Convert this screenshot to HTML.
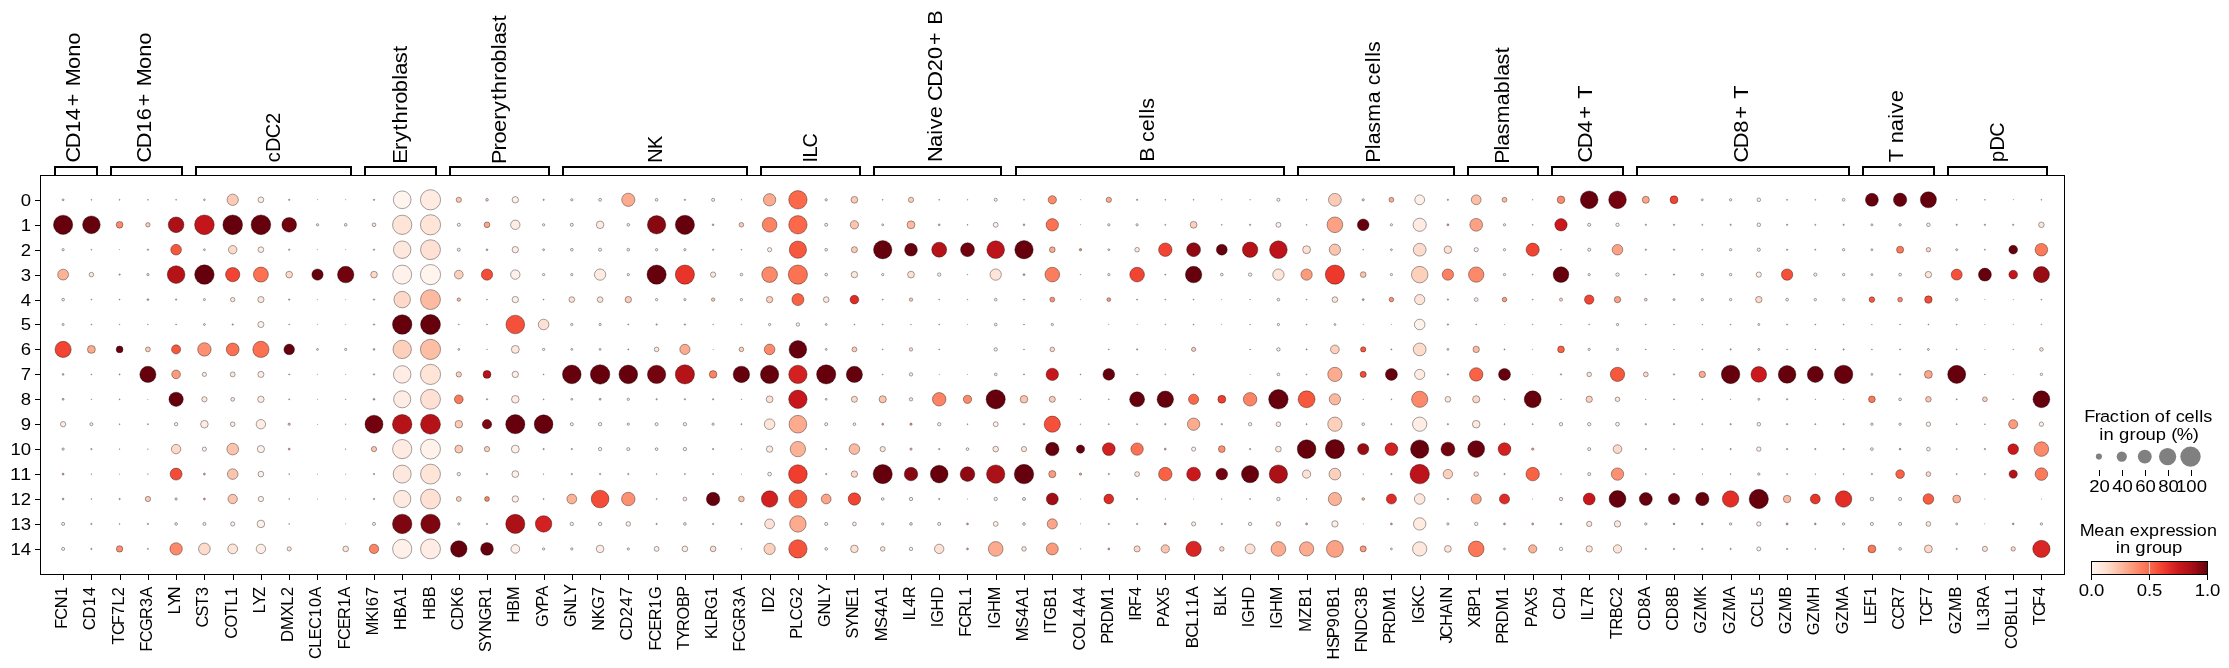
<!DOCTYPE html><html><head><meta charset="utf-8"><title>dotplot</title><style>html,body{margin:0;padding:0;background:#fff}body{width:2229px;height:668px;overflow:hidden;font-family:"Liberation Sans",sans-serif}</style></head><body><svg width="2229" height="668" viewBox="0 0 2229 668" style="display:block;will-change:transform">
<rect width="2229" height="668" fill="#fff"/>
<g stroke="#000" stroke-width="0.36">
<circle cx="63.1" cy="199.8" r="0.95" fill="#fee5d8"/>
<circle cx="91.4" cy="199.8" r="0.50" fill="#bdb4b2" stroke-width="0.25"/>
<circle cx="119.6" cy="199.8" r="0.50" fill="#bdb4b2" stroke-width="0.25"/>
<circle cx="147.9" cy="199.8" r="0.50" fill="#bdb4b2" stroke-width="0.25"/>
<circle cx="176.1" cy="199.8" r="0.50" fill="#bdb4b2" stroke-width="0.25"/>
<circle cx="204.4" cy="199.8" r="0.85" fill="#ffede5"/>
<circle cx="232.7" cy="199.8" r="5.65" fill="#fdcab5"/>
<circle cx="260.9" cy="199.8" r="2.85" fill="#ffede5"/>
<circle cx="289.2" cy="199.8" r="0.75" fill="#bdb4b2" stroke-width="0.25"/>
<circle cx="317.5" cy="199.8" r="0.25" fill="#bdb4b2" stroke-width="0.25"/>
<circle cx="345.7" cy="199.8" r="0.25" fill="#bdb4b2" stroke-width="0.25"/>
<circle cx="374.0" cy="199.8" r="0.75" fill="#bdb4b2" stroke-width="0.25"/>
<circle cx="402.2" cy="199.8" r="8.85" fill="#fff4ee"/>
<circle cx="430.5" cy="199.8" r="10.10" fill="#ffebe2"/>
<circle cx="458.8" cy="199.8" r="2.65" fill="#fcc4ad"/>
<circle cx="487.0" cy="199.8" r="1.35" fill="#fed9c9"/>
<circle cx="515.3" cy="199.8" r="3.20" fill="#fff0e9"/>
<circle cx="543.6" cy="199.8" r="0.75" fill="#bdb4b2" stroke-width="0.25"/>
<circle cx="571.8" cy="199.8" r="1.15" fill="#ffede5"/>
<circle cx="600.1" cy="199.8" r="1.45" fill="#ffede5"/>
<circle cx="628.3" cy="199.8" r="6.60" fill="#fcab8f"/>
<circle cx="656.6" cy="199.8" r="1.35" fill="#ffede5"/>
<circle cx="684.9" cy="199.8" r="0.75" fill="#bdb4b2" stroke-width="0.25"/>
<circle cx="713.1" cy="199.8" r="1.55" fill="#ffede5"/>
<circle cx="741.4" cy="199.8" r="0.40" fill="#bdb4b2" stroke-width="0.25"/>
<circle cx="769.6" cy="199.8" r="6.20" fill="#fcab8f"/>
<circle cx="797.9" cy="199.8" r="9.20" fill="#fb694a"/>
<circle cx="826.2" cy="199.8" r="1.15" fill="#ffede5"/>
<circle cx="854.4" cy="199.8" r="3.40" fill="#fdcab5"/>
<circle cx="882.7" cy="199.8" r="0.50" fill="#bdb4b2" stroke-width="0.25"/>
<circle cx="911.0" cy="199.8" r="2.65" fill="#fdd0bc"/>
<circle cx="939.2" cy="199.8" r="0.50" fill="#bdb4b2" stroke-width="0.25"/>
<circle cx="967.5" cy="199.8" r="0.40" fill="#bdb4b2" stroke-width="0.25"/>
<circle cx="995.7" cy="199.8" r="1.55" fill="#fff0e9"/>
<circle cx="1024.0" cy="199.8" r="0.50" fill="#bdb4b2" stroke-width="0.25"/>
<circle cx="1052.3" cy="199.8" r="4.15" fill="#fc8a6a"/>
<circle cx="1080.5" cy="199.8" r="0.25" fill="#bdb4b2" stroke-width="0.25"/>
<circle cx="1108.8" cy="199.8" r="2.65" fill="#fcab8f"/>
<circle cx="1137.1" cy="199.8" r="0.75" fill="#bdb4b2" stroke-width="0.25"/>
<circle cx="1165.3" cy="199.8" r="0.50" fill="#bdb4b2" stroke-width="0.25"/>
<circle cx="1193.6" cy="199.8" r="0.50" fill="#bdb4b2" stroke-width="0.25"/>
<circle cx="1221.8" cy="199.8" r="0.40" fill="#bdb4b2" stroke-width="0.25"/>
<circle cx="1250.1" cy="199.8" r="0.40" fill="#bdb4b2" stroke-width="0.25"/>
<circle cx="1278.4" cy="199.8" r="1.55" fill="#fff0e9"/>
<circle cx="1306.6" cy="199.8" r="0.50" fill="#bdb4b2" stroke-width="0.25"/>
<circle cx="1334.9" cy="199.8" r="6.40" fill="#fdcab5"/>
<circle cx="1363.2" cy="199.8" r="1.15" fill="#fed9c9"/>
<circle cx="1391.4" cy="199.8" r="2.45" fill="#fcab8f"/>
<circle cx="1419.7" cy="199.8" r="4.90" fill="#fff0e9"/>
<circle cx="1447.9" cy="199.8" r="0.75" fill="#bdb4b2" stroke-width="0.25"/>
<circle cx="1476.2" cy="199.8" r="4.90" fill="#fcbea5"/>
<circle cx="1504.5" cy="199.8" r="2.45" fill="#fcbba1"/>
<circle cx="1532.7" cy="199.8" r="0.40" fill="#bdb4b2" stroke-width="0.25"/>
<circle cx="1561.0" cy="199.8" r="3.80" fill="#fc8a6a"/>
<circle cx="1589.2" cy="199.8" r="8.85" fill="#67000d"/>
<circle cx="1617.5" cy="199.8" r="8.85" fill="#75030f"/>
<circle cx="1645.8" cy="199.8" r="3.55" fill="#fca588"/>
<circle cx="1674.0" cy="199.8" r="3.95" fill="#f14432"/>
<circle cx="1702.3" cy="199.8" r="1.00" fill="#ffede5"/>
<circle cx="1730.6" cy="199.8" r="1.20" fill="#fff0e9"/>
<circle cx="1758.8" cy="199.8" r="1.80" fill="#fff0e9"/>
<circle cx="1787.1" cy="199.8" r="0.60" fill="#bdb4b2" stroke-width="0.25"/>
<circle cx="1815.3" cy="199.8" r="0.50" fill="#bdb4b2" stroke-width="0.25"/>
<circle cx="1843.6" cy="199.8" r="1.40" fill="#fff0e9"/>
<circle cx="1871.9" cy="199.8" r="6.50" fill="#67000d"/>
<circle cx="1900.1" cy="199.8" r="6.70" fill="#67000d"/>
<circle cx="1928.4" cy="199.8" r="8.05" fill="#67000d"/>
<circle cx="1956.7" cy="199.8" r="0.50" fill="#bdb4b2" stroke-width="0.25"/>
<circle cx="1984.9" cy="199.8" r="0.50" fill="#bdb4b2" stroke-width="0.25"/>
<circle cx="2013.2" cy="199.8" r="0.25" fill="#bdb4b2" stroke-width="0.25"/>
<circle cx="2041.4" cy="199.8" r="0.50" fill="#bdb4b2" stroke-width="0.25"/>
<circle cx="63.1" cy="224.8" r="9.65" fill="#67000d"/>
<circle cx="91.4" cy="224.8" r="8.85" fill="#67000d"/>
<circle cx="119.6" cy="224.8" r="3.35" fill="#fc8a6a"/>
<circle cx="147.9" cy="224.8" r="2.20" fill="#fdcab5"/>
<circle cx="176.1" cy="224.8" r="7.85" fill="#ac1117"/>
<circle cx="204.4" cy="224.8" r="9.85" fill="#c2161b"/>
<circle cx="232.7" cy="224.8" r="9.85" fill="#67000d"/>
<circle cx="260.9" cy="224.8" r="9.85" fill="#67000d"/>
<circle cx="289.2" cy="224.8" r="7.35" fill="#71020e"/>
<circle cx="317.5" cy="224.8" r="1.15" fill="#fee5d8"/>
<circle cx="345.7" cy="224.8" r="1.35" fill="#fee5d8"/>
<circle cx="374.0" cy="224.8" r="1.85" fill="#fee5d8"/>
<circle cx="402.2" cy="224.8" r="9.65" fill="#fee5d8"/>
<circle cx="430.5" cy="224.8" r="10.10" fill="#fee5d8"/>
<circle cx="458.8" cy="224.8" r="1.55" fill="#ffede5"/>
<circle cx="487.0" cy="224.8" r="2.85" fill="#fca588"/>
<circle cx="515.3" cy="224.8" r="4.70" fill="#ffede5"/>
<circle cx="543.6" cy="224.8" r="1.15" fill="#fff0e9"/>
<circle cx="571.8" cy="224.8" r="1.55" fill="#ffede5"/>
<circle cx="600.1" cy="224.8" r="3.80" fill="#ffebe2"/>
<circle cx="628.3" cy="224.8" r="1.35" fill="#ffede5"/>
<circle cx="656.6" cy="224.8" r="9.20" fill="#880811"/>
<circle cx="684.9" cy="224.8" r="9.60" fill="#67000d"/>
<circle cx="713.1" cy="224.8" r="0.95" fill="#bdb4b2" stroke-width="0.25"/>
<circle cx="741.4" cy="224.8" r="2.30" fill="#fdcab5"/>
<circle cx="769.6" cy="224.8" r="7.35" fill="#fc8464"/>
<circle cx="797.9" cy="224.8" r="9.20" fill="#fb694a"/>
<circle cx="826.2" cy="224.8" r="1.55" fill="#ffede5"/>
<circle cx="854.4" cy="224.8" r="4.15" fill="#fcc4ad"/>
<circle cx="882.7" cy="224.8" r="0.95" fill="#ffede5"/>
<circle cx="911.0" cy="224.8" r="3.95" fill="#fcbba1"/>
<circle cx="939.2" cy="224.8" r="0.95" fill="#bdb4b2" stroke-width="0.25"/>
<circle cx="967.5" cy="224.8" r="0.50" fill="#bdb4b2" stroke-width="0.25"/>
<circle cx="995.7" cy="224.8" r="2.45" fill="#fff0e9"/>
<circle cx="1024.0" cy="224.8" r="0.95" fill="#bdb4b2" stroke-width="0.25"/>
<circle cx="1052.3" cy="224.8" r="6.20" fill="#fb7151"/>
<circle cx="1080.5" cy="224.8" r="0.25" fill="#bdb4b2" stroke-width="0.25"/>
<circle cx="1108.8" cy="224.8" r="1.15" fill="#ffede5"/>
<circle cx="1137.1" cy="224.8" r="1.15" fill="#ffede5"/>
<circle cx="1165.3" cy="224.8" r="0.60" fill="#bdb4b2" stroke-width="0.25"/>
<circle cx="1193.6" cy="224.8" r="3.40" fill="#fdd0bc"/>
<circle cx="1221.8" cy="224.8" r="0.50" fill="#bdb4b2" stroke-width="0.25"/>
<circle cx="1250.1" cy="224.8" r="0.75" fill="#bdb4b2" stroke-width="0.25"/>
<circle cx="1278.4" cy="224.8" r="2.45" fill="#fff0e9"/>
<circle cx="1306.6" cy="224.8" r="0.50" fill="#bdb4b2" stroke-width="0.25"/>
<circle cx="1334.9" cy="224.8" r="7.85" fill="#fca183"/>
<circle cx="1363.2" cy="224.8" r="5.85" fill="#67000d"/>
<circle cx="1391.4" cy="224.8" r="1.15" fill="#fff0e9"/>
<circle cx="1419.7" cy="224.8" r="6.60" fill="#ffebe2"/>
<circle cx="1447.9" cy="224.8" r="0.95" fill="#fcab8f"/>
<circle cx="1476.2" cy="224.8" r="6.40" fill="#fca183"/>
<circle cx="1504.5" cy="224.8" r="1.15" fill="#fff0e9"/>
<circle cx="1532.7" cy="224.8" r="0.50" fill="#bdb4b2" stroke-width="0.25"/>
<circle cx="1561.0" cy="224.8" r="6.20" fill="#ca181d"/>
<circle cx="1589.2" cy="224.8" r="1.55" fill="#fff0e9"/>
<circle cx="1617.5" cy="224.8" r="1.70" fill="#fff2eb"/>
<circle cx="1645.8" cy="224.8" r="0.75" fill="#bdb4b2" stroke-width="0.25"/>
<circle cx="1674.0" cy="224.8" r="0.75" fill="#bdb4b2" stroke-width="0.25"/>
<circle cx="1702.3" cy="224.8" r="0.60" fill="#bdb4b2" stroke-width="0.25"/>
<circle cx="1730.6" cy="224.8" r="0.75" fill="#bdb4b2" stroke-width="0.25"/>
<circle cx="1758.8" cy="224.8" r="1.80" fill="#fff0e9"/>
<circle cx="1787.1" cy="224.8" r="0.75" fill="#bdb4b2" stroke-width="0.25"/>
<circle cx="1815.3" cy="224.8" r="0.60" fill="#bdb4b2" stroke-width="0.25"/>
<circle cx="1843.6" cy="224.8" r="0.75" fill="#bdb4b2" stroke-width="0.25"/>
<circle cx="1871.9" cy="224.8" r="1.00" fill="#ffede5"/>
<circle cx="1900.1" cy="224.8" r="1.20" fill="#ffede5"/>
<circle cx="1928.4" cy="224.8" r="1.80" fill="#ffede5"/>
<circle cx="1956.7" cy="224.8" r="0.75" fill="#bdb4b2" stroke-width="0.25"/>
<circle cx="1984.9" cy="224.8" r="0.75" fill="#bdb4b2" stroke-width="0.25"/>
<circle cx="2013.2" cy="224.8" r="0.75" fill="#bdb4b2" stroke-width="0.25"/>
<circle cx="2041.4" cy="224.8" r="2.80" fill="#fee5d8"/>
<circle cx="63.1" cy="249.7" r="1.15" fill="#ffede5"/>
<circle cx="91.4" cy="249.7" r="0.50" fill="#bdb4b2" stroke-width="0.25"/>
<circle cx="119.6" cy="249.7" r="0.25" fill="#bdb4b2" stroke-width="0.25"/>
<circle cx="147.9" cy="249.7" r="0.75" fill="#bdb4b2" stroke-width="0.25"/>
<circle cx="176.1" cy="249.7" r="5.35" fill="#f6583e"/>
<circle cx="204.4" cy="249.7" r="0.95" fill="#ffede5"/>
<circle cx="232.7" cy="249.7" r="4.25" fill="#fed9c9"/>
<circle cx="260.9" cy="249.7" r="2.85" fill="#ffede5"/>
<circle cx="289.2" cy="249.7" r="0.75" fill="#bdb4b2" stroke-width="0.25"/>
<circle cx="317.5" cy="249.7" r="0.25" fill="#bdb4b2" stroke-width="0.25"/>
<circle cx="345.7" cy="249.7" r="0.25" fill="#bdb4b2" stroke-width="0.25"/>
<circle cx="374.0" cy="249.7" r="0.75" fill="#bdb4b2" stroke-width="0.25"/>
<circle cx="402.2" cy="249.7" r="8.75" fill="#fee8dd"/>
<circle cx="430.5" cy="249.7" r="9.95" fill="#fee1d4"/>
<circle cx="458.8" cy="249.7" r="1.55" fill="#fee8dd"/>
<circle cx="487.0" cy="249.7" r="0.95" fill="#bdb4b2" stroke-width="0.25"/>
<circle cx="515.3" cy="249.7" r="3.20" fill="#ffeee7"/>
<circle cx="543.6" cy="249.7" r="0.95" fill="#fee5d8"/>
<circle cx="571.8" cy="249.7" r="1.35" fill="#ffede5"/>
<circle cx="600.1" cy="249.7" r="1.55" fill="#ffede5"/>
<circle cx="628.3" cy="249.7" r="1.35" fill="#ffede5"/>
<circle cx="656.6" cy="249.7" r="1.15" fill="#fff0e9"/>
<circle cx="684.9" cy="249.7" r="1.15" fill="#ffede5"/>
<circle cx="713.1" cy="249.7" r="0.75" fill="#bdb4b2" stroke-width="0.25"/>
<circle cx="741.4" cy="249.7" r="0.50" fill="#bdb4b2" stroke-width="0.25"/>
<circle cx="769.6" cy="249.7" r="2.10" fill="#fff0e9"/>
<circle cx="797.9" cy="249.7" r="8.65" fill="#f6583e"/>
<circle cx="826.2" cy="249.7" r="1.35" fill="#ffede5"/>
<circle cx="854.4" cy="249.7" r="3.05" fill="#fdcab5"/>
<circle cx="882.7" cy="249.7" r="9.20" fill="#67000d"/>
<circle cx="911.0" cy="249.7" r="6.40" fill="#67000d"/>
<circle cx="939.2" cy="249.7" r="7.50" fill="#b61319"/>
<circle cx="967.5" cy="249.7" r="6.95" fill="#71020e"/>
<circle cx="995.7" cy="249.7" r="8.85" fill="#bc141a"/>
<circle cx="1024.0" cy="249.7" r="9.20" fill="#67000d"/>
<circle cx="1052.3" cy="249.7" r="2.85" fill="#fcab8f"/>
<circle cx="1080.5" cy="249.7" r="1.15" fill="#fc8a6a"/>
<circle cx="1108.8" cy="249.7" r="0.95" fill="#ffede5"/>
<circle cx="1137.1" cy="249.7" r="2.30" fill="#fee8dd"/>
<circle cx="1165.3" cy="249.7" r="6.75" fill="#f14432"/>
<circle cx="1193.6" cy="249.7" r="6.95" fill="#8e0912"/>
<circle cx="1221.8" cy="249.7" r="5.45" fill="#67000d"/>
<circle cx="1250.1" cy="249.7" r="7.70" fill="#b61319"/>
<circle cx="1278.4" cy="249.7" r="8.85" fill="#bc141a"/>
<circle cx="1306.6" cy="249.7" r="3.95" fill="#fee1d4"/>
<circle cx="1334.9" cy="249.7" r="5.65" fill="#fcc4ad"/>
<circle cx="1363.2" cy="249.7" r="0.50" fill="#bdb4b2" stroke-width="0.25"/>
<circle cx="1391.4" cy="249.7" r="0.95" fill="#fff0e9"/>
<circle cx="1419.7" cy="249.7" r="6.40" fill="#fedccd"/>
<circle cx="1447.9" cy="249.7" r="3.80" fill="#fee1d4"/>
<circle cx="1476.2" cy="249.7" r="2.10" fill="#fff0e9"/>
<circle cx="1504.5" cy="249.7" r="1.15" fill="#fff0e9"/>
<circle cx="1532.7" cy="249.7" r="6.60" fill="#f14432"/>
<circle cx="1561.0" cy="249.7" r="0.50" fill="#bdb4b2" stroke-width="0.25"/>
<circle cx="1589.2" cy="249.7" r="1.55" fill="#fff0e9"/>
<circle cx="1617.5" cy="249.7" r="5.30" fill="#fca183"/>
<circle cx="1645.8" cy="249.7" r="0.75" fill="#bdb4b2" stroke-width="0.25"/>
<circle cx="1674.0" cy="249.7" r="0.75" fill="#bdb4b2" stroke-width="0.25"/>
<circle cx="1702.3" cy="249.7" r="0.50" fill="#bdb4b2" stroke-width="0.25"/>
<circle cx="1730.6" cy="249.7" r="1.20" fill="#fff0e9"/>
<circle cx="1758.8" cy="249.7" r="1.60" fill="#fff0e9"/>
<circle cx="1787.1" cy="249.7" r="0.75" fill="#bdb4b2" stroke-width="0.25"/>
<circle cx="1815.3" cy="249.7" r="0.60" fill="#bdb4b2" stroke-width="0.25"/>
<circle cx="1843.6" cy="249.7" r="1.20" fill="#fff0e9"/>
<circle cx="1871.9" cy="249.7" r="1.00" fill="#ffede5"/>
<circle cx="1900.1" cy="249.7" r="3.55" fill="#fb7a5a"/>
<circle cx="1928.4" cy="249.7" r="2.20" fill="#fed9c9"/>
<circle cx="1956.7" cy="249.7" r="1.00" fill="#ffede5"/>
<circle cx="1984.9" cy="249.7" r="0.60" fill="#bdb4b2" stroke-width="0.25"/>
<circle cx="2013.2" cy="249.7" r="4.35" fill="#67000d"/>
<circle cx="2041.4" cy="249.7" r="6.30" fill="#fb7a5a"/>
<circle cx="63.1" cy="274.6" r="5.45" fill="#fcb296"/>
<circle cx="91.4" cy="274.6" r="2.30" fill="#fee8dd"/>
<circle cx="119.6" cy="274.6" r="0.75" fill="#bdb4b2" stroke-width="0.25"/>
<circle cx="147.9" cy="274.6" r="1.15" fill="#fee5d8"/>
<circle cx="176.1" cy="274.6" r="8.85" fill="#b61319"/>
<circle cx="204.4" cy="274.6" r="9.75" fill="#67000d"/>
<circle cx="232.7" cy="274.6" r="7.15" fill="#f14432"/>
<circle cx="260.9" cy="274.6" r="7.50" fill="#fb7151"/>
<circle cx="289.2" cy="274.6" r="3.35" fill="#fed9c9"/>
<circle cx="317.5" cy="274.6" r="5.65" fill="#67000d"/>
<circle cx="345.7" cy="274.6" r="8.25" fill="#71020e"/>
<circle cx="374.0" cy="274.6" r="3.35" fill="#fed9c9"/>
<circle cx="402.2" cy="274.6" r="9.50" fill="#fff2eb"/>
<circle cx="430.5" cy="274.6" r="10.10" fill="#fff4ee"/>
<circle cx="458.8" cy="274.6" r="4.35" fill="#fdd0bc"/>
<circle cx="487.0" cy="274.6" r="5.65" fill="#f34c37"/>
<circle cx="515.3" cy="274.6" r="4.70" fill="#fff0e9"/>
<circle cx="543.6" cy="274.6" r="1.15" fill="#fff0e9"/>
<circle cx="571.8" cy="274.6" r="1.15" fill="#ffede5"/>
<circle cx="600.1" cy="274.6" r="5.65" fill="#ffebe2"/>
<circle cx="628.3" cy="274.6" r="1.15" fill="#ffede5"/>
<circle cx="656.6" cy="274.6" r="9.60" fill="#67000d"/>
<circle cx="684.9" cy="274.6" r="9.60" fill="#e83429"/>
<circle cx="713.1" cy="274.6" r="2.65" fill="#fee8dd"/>
<circle cx="741.4" cy="274.6" r="1.35" fill="#ffede5"/>
<circle cx="769.6" cy="274.6" r="7.85" fill="#fc8a6a"/>
<circle cx="797.9" cy="274.6" r="9.60" fill="#fb7353"/>
<circle cx="826.2" cy="274.6" r="1.35" fill="#ffede5"/>
<circle cx="854.4" cy="274.6" r="3.20" fill="#fee8dd"/>
<circle cx="882.7" cy="274.6" r="1.15" fill="#fff0e9"/>
<circle cx="911.0" cy="274.6" r="3.40" fill="#fee1d4"/>
<circle cx="939.2" cy="274.6" r="1.70" fill="#fff0e9"/>
<circle cx="967.5" cy="274.6" r="0.40" fill="#bdb4b2" stroke-width="0.25"/>
<circle cx="995.7" cy="274.6" r="5.65" fill="#fee5d8"/>
<circle cx="1024.0" cy="274.6" r="0.95" fill="#fcab8f"/>
<circle cx="1052.3" cy="274.6" r="7.35" fill="#fb7d5d"/>
<circle cx="1080.5" cy="274.6" r="0.40" fill="#bdb4b2" stroke-width="0.25"/>
<circle cx="1108.8" cy="274.6" r="1.15" fill="#fff0e9"/>
<circle cx="1137.1" cy="274.6" r="7.35" fill="#f14432"/>
<circle cx="1165.3" cy="274.6" r="0.60" fill="#bdb4b2" stroke-width="0.25"/>
<circle cx="1193.6" cy="274.6" r="8.25" fill="#67000d"/>
<circle cx="1221.8" cy="274.6" r="1.35" fill="#fff0e9"/>
<circle cx="1250.1" cy="274.6" r="1.70" fill="#fff2eb"/>
<circle cx="1278.4" cy="274.6" r="5.65" fill="#fee5d8"/>
<circle cx="1306.6" cy="274.6" r="5.65" fill="#fc9b7c"/>
<circle cx="1334.9" cy="274.6" r="9.60" fill="#ed392b"/>
<circle cx="1363.2" cy="274.6" r="2.85" fill="#fcc4ad"/>
<circle cx="1391.4" cy="274.6" r="1.15" fill="#fff0e9"/>
<circle cx="1419.7" cy="274.6" r="8.25" fill="#fdd0bc"/>
<circle cx="1447.9" cy="274.6" r="5.65" fill="#fc8060"/>
<circle cx="1476.2" cy="274.6" r="7.70" fill="#fc8a6a"/>
<circle cx="1504.5" cy="274.6" r="1.15" fill="#fff0e9"/>
<circle cx="1532.7" cy="274.6" r="0.50" fill="#bdb4b2" stroke-width="0.25"/>
<circle cx="1561.0" cy="274.6" r="7.85" fill="#67000d"/>
<circle cx="1589.2" cy="274.6" r="1.15" fill="#fff0e9"/>
<circle cx="1617.5" cy="274.6" r="1.70" fill="#fff2eb"/>
<circle cx="1645.8" cy="274.6" r="0.60" fill="#bdb4b2" stroke-width="0.25"/>
<circle cx="1674.0" cy="274.6" r="0.75" fill="#bdb4b2" stroke-width="0.25"/>
<circle cx="1702.3" cy="274.6" r="1.20" fill="#ffede5"/>
<circle cx="1730.6" cy="274.6" r="1.20" fill="#fff0e9"/>
<circle cx="1758.8" cy="274.6" r="2.60" fill="#fff0e9"/>
<circle cx="1787.1" cy="274.6" r="5.70" fill="#f4503a"/>
<circle cx="1815.3" cy="274.6" r="1.60" fill="#ffede5"/>
<circle cx="1843.6" cy="274.6" r="1.20" fill="#fff0e9"/>
<circle cx="1871.9" cy="274.6" r="1.00" fill="#ffede5"/>
<circle cx="1900.1" cy="274.6" r="1.40" fill="#fff0e9"/>
<circle cx="1928.4" cy="274.6" r="3.20" fill="#fee5d8"/>
<circle cx="1956.7" cy="274.6" r="5.50" fill="#f4503a"/>
<circle cx="1984.9" cy="274.6" r="6.50" fill="#67000d"/>
<circle cx="2013.2" cy="274.6" r="4.35" fill="#c2161b"/>
<circle cx="2041.4" cy="274.6" r="8.05" fill="#980c13"/>
<circle cx="63.1" cy="299.6" r="1.35" fill="#ffede5"/>
<circle cx="91.4" cy="299.6" r="0.50" fill="#bdb4b2" stroke-width="0.25"/>
<circle cx="119.6" cy="299.6" r="0.50" fill="#bdb4b2" stroke-width="0.25"/>
<circle cx="147.9" cy="299.6" r="0.85" fill="#fcab8f"/>
<circle cx="176.1" cy="299.6" r="0.75" fill="#bdb4b2" stroke-width="0.25"/>
<circle cx="204.4" cy="299.6" r="1.05" fill="#ffede5"/>
<circle cx="232.7" cy="299.6" r="2.20" fill="#fee8dd"/>
<circle cx="260.9" cy="299.6" r="3.10" fill="#fee8dd"/>
<circle cx="289.2" cy="299.6" r="0.75" fill="#bdb4b2" stroke-width="0.25"/>
<circle cx="317.5" cy="299.6" r="0.25" fill="#bdb4b2" stroke-width="0.25"/>
<circle cx="345.7" cy="299.6" r="0.25" fill="#bdb4b2" stroke-width="0.25"/>
<circle cx="374.0" cy="299.6" r="0.75" fill="#bdb4b2" stroke-width="0.25"/>
<circle cx="402.2" cy="299.6" r="8.25" fill="#fed9c9"/>
<circle cx="430.5" cy="299.6" r="9.95" fill="#fcbba1"/>
<circle cx="458.8" cy="299.6" r="1.70" fill="#fcbba1"/>
<circle cx="487.0" cy="299.6" r="0.50" fill="#bdb4b2" stroke-width="0.25"/>
<circle cx="515.3" cy="299.6" r="3.20" fill="#ffeee7"/>
<circle cx="543.6" cy="299.6" r="0.50" fill="#bdb4b2" stroke-width="0.25"/>
<circle cx="571.8" cy="299.6" r="2.85" fill="#fee1d4"/>
<circle cx="600.1" cy="299.6" r="2.85" fill="#fee5d8"/>
<circle cx="628.3" cy="299.6" r="3.20" fill="#fdcab5"/>
<circle cx="656.6" cy="299.6" r="1.15" fill="#fff0e9"/>
<circle cx="684.9" cy="299.6" r="1.15" fill="#ffede5"/>
<circle cx="713.1" cy="299.6" r="1.70" fill="#fdcab5"/>
<circle cx="741.4" cy="299.6" r="1.15" fill="#fff0e9"/>
<circle cx="769.6" cy="299.6" r="3.20" fill="#fdd0bc"/>
<circle cx="797.9" cy="299.6" r="6.00" fill="#f96245"/>
<circle cx="826.2" cy="299.6" r="2.85" fill="#fee8dd"/>
<circle cx="854.4" cy="299.6" r="4.35" fill="#de2b25"/>
<circle cx="882.7" cy="299.6" r="0.60" fill="#bdb4b2" stroke-width="0.25"/>
<circle cx="911.0" cy="299.6" r="1.70" fill="#fdd0bc"/>
<circle cx="939.2" cy="299.6" r="0.50" fill="#bdb4b2" stroke-width="0.25"/>
<circle cx="967.5" cy="299.6" r="0.40" fill="#bdb4b2" stroke-width="0.25"/>
<circle cx="995.7" cy="299.6" r="1.35" fill="#fff0e9"/>
<circle cx="1024.0" cy="299.6" r="0.60" fill="#bdb4b2" stroke-width="0.25"/>
<circle cx="1052.3" cy="299.6" r="2.45" fill="#fc9070"/>
<circle cx="1080.5" cy="299.6" r="0.25" fill="#bdb4b2" stroke-width="0.25"/>
<circle cx="1108.8" cy="299.6" r="1.90" fill="#fc9b7c"/>
<circle cx="1137.1" cy="299.6" r="0.60" fill="#bdb4b2" stroke-width="0.25"/>
<circle cx="1165.3" cy="299.6" r="0.50" fill="#bdb4b2" stroke-width="0.25"/>
<circle cx="1193.6" cy="299.6" r="0.50" fill="#bdb4b2" stroke-width="0.25"/>
<circle cx="1221.8" cy="299.6" r="0.25" fill="#bdb4b2" stroke-width="0.25"/>
<circle cx="1250.1" cy="299.6" r="0.40" fill="#bdb4b2" stroke-width="0.25"/>
<circle cx="1278.4" cy="299.6" r="1.35" fill="#fff0e9"/>
<circle cx="1306.6" cy="299.6" r="0.50" fill="#bdb4b2" stroke-width="0.25"/>
<circle cx="1334.9" cy="299.6" r="2.85" fill="#fee5d8"/>
<circle cx="1363.2" cy="299.6" r="0.95" fill="#fcab8f"/>
<circle cx="1391.4" cy="299.6" r="2.30" fill="#fc9070"/>
<circle cx="1419.7" cy="299.6" r="5.10" fill="#fee5d8"/>
<circle cx="1447.9" cy="299.6" r="0.75" fill="#bdb4b2" stroke-width="0.25"/>
<circle cx="1476.2" cy="299.6" r="1.90" fill="#ffede5"/>
<circle cx="1504.5" cy="299.6" r="2.30" fill="#fc9b7c"/>
<circle cx="1532.7" cy="299.6" r="0.50" fill="#bdb4b2" stroke-width="0.25"/>
<circle cx="1561.0" cy="299.6" r="1.55" fill="#fed9c9"/>
<circle cx="1589.2" cy="299.6" r="4.70" fill="#f14432"/>
<circle cx="1617.5" cy="299.6" r="3.20" fill="#fca183"/>
<circle cx="1645.8" cy="299.6" r="1.40" fill="#fed9c9"/>
<circle cx="1674.0" cy="299.6" r="1.00" fill="#fee5d8"/>
<circle cx="1702.3" cy="299.6" r="1.20" fill="#ffede5"/>
<circle cx="1730.6" cy="299.6" r="1.20" fill="#fff0e9"/>
<circle cx="1758.8" cy="299.6" r="3.20" fill="#fed9c9"/>
<circle cx="1787.1" cy="299.6" r="1.40" fill="#fff0e9"/>
<circle cx="1815.3" cy="299.6" r="1.20" fill="#fff0e9"/>
<circle cx="1843.6" cy="299.6" r="1.20" fill="#fff0e9"/>
<circle cx="1871.9" cy="299.6" r="2.80" fill="#f6583e"/>
<circle cx="1900.1" cy="299.6" r="2.40" fill="#fc8464"/>
<circle cx="1928.4" cy="299.6" r="3.75" fill="#f34c37"/>
<circle cx="1956.7" cy="299.6" r="1.20" fill="#fff0e9"/>
<circle cx="1984.9" cy="299.6" r="0.25" fill="#bdb4b2" stroke-width="0.25"/>
<circle cx="2013.2" cy="299.6" r="0.25" fill="#bdb4b2" stroke-width="0.25"/>
<circle cx="2041.4" cy="299.6" r="0.50" fill="#bdb4b2" stroke-width="0.25"/>
<circle cx="63.1" cy="324.5" r="1.05" fill="#ffede5"/>
<circle cx="91.4" cy="324.5" r="0.50" fill="#bdb4b2" stroke-width="0.25"/>
<circle cx="119.6" cy="324.5" r="0.40" fill="#bdb4b2" stroke-width="0.25"/>
<circle cx="147.9" cy="324.5" r="0.40" fill="#bdb4b2" stroke-width="0.25"/>
<circle cx="176.1" cy="324.5" r="0.50" fill="#bdb4b2" stroke-width="0.25"/>
<circle cx="204.4" cy="324.5" r="0.95" fill="#ffede5"/>
<circle cx="232.7" cy="324.5" r="0.75" fill="#bdb4b2" stroke-width="0.25"/>
<circle cx="260.9" cy="324.5" r="3.05" fill="#fff0e9"/>
<circle cx="289.2" cy="324.5" r="0.50" fill="#bdb4b2" stroke-width="0.25"/>
<circle cx="317.5" cy="324.5" r="0.25" fill="#bdb4b2" stroke-width="0.25"/>
<circle cx="345.7" cy="324.5" r="0.25" fill="#bdb4b2" stroke-width="0.25"/>
<circle cx="374.0" cy="324.5" r="0.75" fill="#bdb4b2" stroke-width="0.25"/>
<circle cx="402.2" cy="324.5" r="9.75" fill="#67000d"/>
<circle cx="430.5" cy="324.5" r="9.95" fill="#67000d"/>
<circle cx="458.8" cy="324.5" r="0.50" fill="#bdb4b2" stroke-width="0.25"/>
<circle cx="487.0" cy="324.5" r="0.50" fill="#bdb4b2" stroke-width="0.25"/>
<circle cx="515.3" cy="324.5" r="9.35" fill="#f4503a"/>
<circle cx="543.6" cy="324.5" r="5.30" fill="#fee1d4"/>
<circle cx="571.8" cy="324.5" r="1.15" fill="#fff0e9"/>
<circle cx="600.1" cy="324.5" r="1.15" fill="#fff0e9"/>
<circle cx="628.3" cy="324.5" r="0.60" fill="#bdb4b2" stroke-width="0.25"/>
<circle cx="656.6" cy="324.5" r="0.75" fill="#bdb4b2" stroke-width="0.25"/>
<circle cx="684.9" cy="324.5" r="0.75" fill="#bdb4b2" stroke-width="0.25"/>
<circle cx="713.1" cy="324.5" r="0.40" fill="#bdb4b2" stroke-width="0.25"/>
<circle cx="741.4" cy="324.5" r="0.40" fill="#bdb4b2" stroke-width="0.25"/>
<circle cx="769.6" cy="324.5" r="1.15" fill="#fff2eb"/>
<circle cx="797.9" cy="324.5" r="1.70" fill="#fff2eb"/>
<circle cx="826.2" cy="324.5" r="0.95" fill="#fff0e9"/>
<circle cx="854.4" cy="324.5" r="0.50" fill="#bdb4b2" stroke-width="0.25"/>
<circle cx="882.7" cy="324.5" r="0.50" fill="#bdb4b2" stroke-width="0.25"/>
<circle cx="911.0" cy="324.5" r="0.40" fill="#bdb4b2" stroke-width="0.25"/>
<circle cx="939.2" cy="324.5" r="0.50" fill="#bdb4b2" stroke-width="0.25"/>
<circle cx="967.5" cy="324.5" r="0.25" fill="#bdb4b2" stroke-width="0.25"/>
<circle cx="995.7" cy="324.5" r="1.35" fill="#fff2eb"/>
<circle cx="1024.0" cy="324.5" r="0.50" fill="#bdb4b2" stroke-width="0.25"/>
<circle cx="1052.3" cy="324.5" r="1.15" fill="#fff0e9"/>
<circle cx="1108.8" cy="324.5" r="0.25" fill="#bdb4b2" stroke-width="0.25"/>
<circle cx="1137.1" cy="324.5" r="0.25" fill="#bdb4b2" stroke-width="0.25"/>
<circle cx="1165.3" cy="324.5" r="0.40" fill="#bdb4b2" stroke-width="0.25"/>
<circle cx="1193.6" cy="324.5" r="0.50" fill="#bdb4b2" stroke-width="0.25"/>
<circle cx="1221.8" cy="324.5" r="0.25" fill="#bdb4b2" stroke-width="0.25"/>
<circle cx="1250.1" cy="324.5" r="0.40" fill="#bdb4b2" stroke-width="0.25"/>
<circle cx="1278.4" cy="324.5" r="1.15" fill="#fff0e9"/>
<circle cx="1306.6" cy="324.5" r="0.50" fill="#bdb4b2" stroke-width="0.25"/>
<circle cx="1334.9" cy="324.5" r="0.95" fill="#ffede5"/>
<circle cx="1363.2" cy="324.5" r="0.25" fill="#bdb4b2" stroke-width="0.25"/>
<circle cx="1391.4" cy="324.5" r="0.25" fill="#bdb4b2" stroke-width="0.25"/>
<circle cx="1419.7" cy="324.5" r="5.30" fill="#fff2eb"/>
<circle cx="1447.9" cy="324.5" r="0.75" fill="#bdb4b2" stroke-width="0.25"/>
<circle cx="1476.2" cy="324.5" r="0.50" fill="#bdb4b2" stroke-width="0.25"/>
<circle cx="1504.5" cy="324.5" r="0.25" fill="#bdb4b2" stroke-width="0.25"/>
<circle cx="1532.7" cy="324.5" r="0.40" fill="#bdb4b2" stroke-width="0.25"/>
<circle cx="1561.0" cy="324.5" r="0.40" fill="#bdb4b2" stroke-width="0.25"/>
<circle cx="1589.2" cy="324.5" r="0.50" fill="#bdb4b2" stroke-width="0.25"/>
<circle cx="1617.5" cy="324.5" r="1.15" fill="#fff0e9"/>
<circle cx="1645.8" cy="324.5" r="0.50" fill="#bdb4b2" stroke-width="0.25"/>
<circle cx="1674.0" cy="324.5" r="0.50" fill="#bdb4b2" stroke-width="0.25"/>
<circle cx="1702.3" cy="324.5" r="0.40" fill="#bdb4b2" stroke-width="0.25"/>
<circle cx="1730.6" cy="324.5" r="0.50" fill="#bdb4b2" stroke-width="0.25"/>
<circle cx="1758.8" cy="324.5" r="1.00" fill="#fff0e9"/>
<circle cx="1787.1" cy="324.5" r="0.60" fill="#bdb4b2" stroke-width="0.25"/>
<circle cx="1815.3" cy="324.5" r="0.50" fill="#bdb4b2" stroke-width="0.25"/>
<circle cx="1843.6" cy="324.5" r="0.50" fill="#bdb4b2" stroke-width="0.25"/>
<circle cx="1871.9" cy="324.5" r="0.40" fill="#bdb4b2" stroke-width="0.25"/>
<circle cx="1900.1" cy="324.5" r="0.50" fill="#bdb4b2" stroke-width="0.25"/>
<circle cx="1928.4" cy="324.5" r="0.50" fill="#bdb4b2" stroke-width="0.25"/>
<circle cx="1956.7" cy="324.5" r="0.50" fill="#bdb4b2" stroke-width="0.25"/>
<circle cx="1984.9" cy="324.5" r="0.25" fill="#bdb4b2" stroke-width="0.25"/>
<circle cx="2013.2" cy="324.5" r="0.25" fill="#bdb4b2" stroke-width="0.25"/>
<circle cx="2041.4" cy="324.5" r="0.40" fill="#bdb4b2" stroke-width="0.25"/>
<circle cx="63.1" cy="349.4" r="8.10" fill="#f14432"/>
<circle cx="91.4" cy="349.4" r="3.95" fill="#fcab8f"/>
<circle cx="119.6" cy="349.4" r="3.40" fill="#67000d"/>
<circle cx="147.9" cy="349.4" r="2.45" fill="#fdcab5"/>
<circle cx="176.1" cy="349.4" r="4.55" fill="#f6583e"/>
<circle cx="204.4" cy="349.4" r="6.75" fill="#fc9070"/>
<circle cx="232.7" cy="349.4" r="6.40" fill="#fb7151"/>
<circle cx="260.9" cy="349.4" r="8.10" fill="#fb7151"/>
<circle cx="289.2" cy="349.4" r="5.30" fill="#67000d"/>
<circle cx="317.5" cy="349.4" r="0.95" fill="#ffede5"/>
<circle cx="345.7" cy="349.4" r="1.15" fill="#ffede5"/>
<circle cx="374.0" cy="349.4" r="0.95" fill="#bdb4b2" stroke-width="0.25"/>
<circle cx="402.2" cy="349.4" r="9.20" fill="#fdd0bc"/>
<circle cx="430.5" cy="349.4" r="10.10" fill="#fcbea5"/>
<circle cx="458.8" cy="349.4" r="0.95" fill="#ffede5"/>
<circle cx="487.0" cy="349.4" r="0.40" fill="#bdb4b2" stroke-width="0.25"/>
<circle cx="515.3" cy="349.4" r="3.95" fill="#fee8dd"/>
<circle cx="543.6" cy="349.4" r="1.15" fill="#fff0e9"/>
<circle cx="571.8" cy="349.4" r="0.95" fill="#fff0e9"/>
<circle cx="600.1" cy="349.4" r="0.95" fill="#fff0e9"/>
<circle cx="628.3" cy="349.4" r="0.60" fill="#bdb4b2" stroke-width="0.25"/>
<circle cx="656.6" cy="349.4" r="2.30" fill="#fee8dd"/>
<circle cx="684.9" cy="349.4" r="5.10" fill="#fcab8f"/>
<circle cx="713.1" cy="349.4" r="0.25" fill="#bdb4b2" stroke-width="0.25"/>
<circle cx="741.4" cy="349.4" r="2.30" fill="#fdd0bc"/>
<circle cx="769.6" cy="349.4" r="5.30" fill="#fc8a6a"/>
<circle cx="797.9" cy="349.4" r="8.85" fill="#67000d"/>
<circle cx="826.2" cy="349.4" r="0.95" fill="#fff0e9"/>
<circle cx="854.4" cy="349.4" r="2.45" fill="#fdcab5"/>
<circle cx="882.7" cy="349.4" r="0.50" fill="#bdb4b2" stroke-width="0.25"/>
<circle cx="911.0" cy="349.4" r="1.70" fill="#fee1d4"/>
<circle cx="939.2" cy="349.4" r="0.50" fill="#bdb4b2" stroke-width="0.25"/>
<circle cx="995.7" cy="349.4" r="1.70" fill="#fff0e9"/>
<circle cx="1024.0" cy="349.4" r="0.50" fill="#bdb4b2" stroke-width="0.25"/>
<circle cx="1052.3" cy="349.4" r="2.30" fill="#fed9c9"/>
<circle cx="1108.8" cy="349.4" r="0.50" fill="#bdb4b2" stroke-width="0.25"/>
<circle cx="1137.1" cy="349.4" r="0.75" fill="#bdb4b2" stroke-width="0.25"/>
<circle cx="1165.3" cy="349.4" r="0.25" fill="#bdb4b2" stroke-width="0.25"/>
<circle cx="1193.6" cy="349.4" r="2.10" fill="#fdd0bc"/>
<circle cx="1250.1" cy="349.4" r="0.50" fill="#bdb4b2" stroke-width="0.25"/>
<circle cx="1278.4" cy="349.4" r="1.70" fill="#fff0e9"/>
<circle cx="1306.6" cy="349.4" r="0.60" fill="#bdb4b2" stroke-width="0.25"/>
<circle cx="1334.9" cy="349.4" r="4.35" fill="#fdd0bc"/>
<circle cx="1363.2" cy="349.4" r="2.65" fill="#f6583e"/>
<circle cx="1391.4" cy="349.4" r="0.60" fill="#bdb4b2" stroke-width="0.25"/>
<circle cx="1419.7" cy="349.4" r="6.40" fill="#fedccd"/>
<circle cx="1447.9" cy="349.4" r="0.95" fill="#fee5d8"/>
<circle cx="1476.2" cy="349.4" r="3.20" fill="#fcbba1"/>
<circle cx="1504.5" cy="349.4" r="0.60" fill="#bdb4b2" stroke-width="0.25"/>
<circle cx="1532.7" cy="349.4" r="0.25" fill="#bdb4b2" stroke-width="0.25"/>
<circle cx="1561.0" cy="349.4" r="3.40" fill="#f96245"/>
<circle cx="1589.2" cy="349.4" r="1.15" fill="#ffede5"/>
<circle cx="1617.5" cy="349.4" r="1.15" fill="#ffede5"/>
<circle cx="1645.8" cy="349.4" r="0.50" fill="#bdb4b2" stroke-width="0.25"/>
<circle cx="1674.0" cy="349.4" r="0.40" fill="#bdb4b2" stroke-width="0.25"/>
<circle cx="1702.3" cy="349.4" r="0.50" fill="#bdb4b2" stroke-width="0.25"/>
<circle cx="1730.6" cy="349.4" r="0.75" fill="#bdb4b2" stroke-width="0.25"/>
<circle cx="1758.8" cy="349.4" r="1.00" fill="#fff0e9"/>
<circle cx="1787.1" cy="349.4" r="0.50" fill="#bdb4b2" stroke-width="0.25"/>
<circle cx="1815.3" cy="349.4" r="0.50" fill="#bdb4b2" stroke-width="0.25"/>
<circle cx="1843.6" cy="349.4" r="0.75" fill="#bdb4b2" stroke-width="0.25"/>
<circle cx="1871.9" cy="349.4" r="0.50" fill="#bdb4b2" stroke-width="0.25"/>
<circle cx="1900.1" cy="349.4" r="0.60" fill="#bdb4b2" stroke-width="0.25"/>
<circle cx="1928.4" cy="349.4" r="1.00" fill="#ffede5"/>
<circle cx="1956.7" cy="349.4" r="0.50" fill="#bdb4b2" stroke-width="0.25"/>
<circle cx="1984.9" cy="349.4" r="0.25" fill="#bdb4b2" stroke-width="0.25"/>
<circle cx="2013.2" cy="349.4" r="0.40" fill="#bdb4b2" stroke-width="0.25"/>
<circle cx="2041.4" cy="349.4" r="1.80" fill="#fee8dd"/>
<circle cx="63.1" cy="374.4" r="0.95" fill="#bdb4b2" stroke-width="0.25"/>
<circle cx="91.4" cy="374.4" r="0.50" fill="#bdb4b2" stroke-width="0.25"/>
<circle cx="119.6" cy="374.4" r="0.60" fill="#bdb4b2" stroke-width="0.25"/>
<circle cx="147.9" cy="374.4" r="8.10" fill="#67000d"/>
<circle cx="176.1" cy="374.4" r="4.35" fill="#fc9b7c"/>
<circle cx="204.4" cy="374.4" r="2.10" fill="#ffede5"/>
<circle cx="232.7" cy="374.4" r="2.45" fill="#fee8dd"/>
<circle cx="260.9" cy="374.4" r="3.05" fill="#ffede5"/>
<circle cx="289.2" cy="374.4" r="0.60" fill="#bdb4b2" stroke-width="0.25"/>
<circle cx="317.5" cy="374.4" r="0.25" fill="#bdb4b2" stroke-width="0.25"/>
<circle cx="345.7" cy="374.4" r="0.25" fill="#bdb4b2" stroke-width="0.25"/>
<circle cx="374.0" cy="374.4" r="0.75" fill="#bdb4b2" stroke-width="0.25"/>
<circle cx="402.2" cy="374.4" r="8.75" fill="#ffede5"/>
<circle cx="430.5" cy="374.4" r="10.10" fill="#fee5d8"/>
<circle cx="458.8" cy="374.4" r="2.65" fill="#fdd0bc"/>
<circle cx="487.0" cy="374.4" r="3.95" fill="#b61319"/>
<circle cx="515.3" cy="374.4" r="3.20" fill="#ffeee7"/>
<circle cx="543.6" cy="374.4" r="0.50" fill="#bdb4b2" stroke-width="0.25"/>
<circle cx="571.8" cy="374.4" r="9.35" fill="#67000d"/>
<circle cx="600.1" cy="374.4" r="9.75" fill="#67000d"/>
<circle cx="628.3" cy="374.4" r="9.35" fill="#67000d"/>
<circle cx="656.6" cy="374.4" r="9.20" fill="#75030f"/>
<circle cx="684.9" cy="374.4" r="9.60" fill="#b61319"/>
<circle cx="713.1" cy="374.4" r="3.80" fill="#fc8464"/>
<circle cx="741.4" cy="374.4" r="8.25" fill="#67000d"/>
<circle cx="769.6" cy="374.4" r="9.20" fill="#67000d"/>
<circle cx="797.9" cy="374.4" r="9.20" fill="#d32020"/>
<circle cx="826.2" cy="374.4" r="9.60" fill="#67000d"/>
<circle cx="854.4" cy="374.4" r="8.10" fill="#67000d"/>
<circle cx="882.7" cy="374.4" r="0.50" fill="#bdb4b2" stroke-width="0.25"/>
<circle cx="911.0" cy="374.4" r="1.70" fill="#ffede5"/>
<circle cx="939.2" cy="374.4" r="0.25" fill="#bdb4b2" stroke-width="0.25"/>
<circle cx="967.5" cy="374.4" r="0.25" fill="#bdb4b2" stroke-width="0.25"/>
<circle cx="995.7" cy="374.4" r="1.35" fill="#fff0e9"/>
<circle cx="1024.0" cy="374.4" r="0.60" fill="#bdb4b2" stroke-width="0.25"/>
<circle cx="1052.3" cy="374.4" r="6.20" fill="#c8171c"/>
<circle cx="1080.5" cy="374.4" r="0.50" fill="#bdb4b2" stroke-width="0.25"/>
<circle cx="1108.8" cy="374.4" r="5.85" fill="#67000d"/>
<circle cx="1137.1" cy="374.4" r="0.50" fill="#bdb4b2" stroke-width="0.25"/>
<circle cx="1165.3" cy="374.4" r="0.40" fill="#bdb4b2" stroke-width="0.25"/>
<circle cx="1193.6" cy="374.4" r="0.50" fill="#bdb4b2" stroke-width="0.25"/>
<circle cx="1250.1" cy="374.4" r="0.25" fill="#bdb4b2" stroke-width="0.25"/>
<circle cx="1278.4" cy="374.4" r="1.35" fill="#fff0e9"/>
<circle cx="1306.6" cy="374.4" r="0.50" fill="#bdb4b2" stroke-width="0.25"/>
<circle cx="1334.9" cy="374.4" r="7.15" fill="#fcab8f"/>
<circle cx="1363.2" cy="374.4" r="3.05" fill="#f34c37"/>
<circle cx="1391.4" cy="374.4" r="6.00" fill="#67000d"/>
<circle cx="1419.7" cy="374.4" r="5.10" fill="#ffebe2"/>
<circle cx="1447.9" cy="374.4" r="0.75" fill="#bdb4b2" stroke-width="0.25"/>
<circle cx="1476.2" cy="374.4" r="6.75" fill="#f96245"/>
<circle cx="1504.5" cy="374.4" r="6.00" fill="#67000d"/>
<circle cx="1532.7" cy="374.4" r="0.25" fill="#bdb4b2" stroke-width="0.25"/>
<circle cx="1561.0" cy="374.4" r="0.75" fill="#bdb4b2" stroke-width="0.25"/>
<circle cx="1589.2" cy="374.4" r="2.30" fill="#fee5d8"/>
<circle cx="1617.5" cy="374.4" r="7.15" fill="#f6583e"/>
<circle cx="1645.8" cy="374.4" r="2.40" fill="#fed9c9"/>
<circle cx="1674.0" cy="374.4" r="0.75" fill="#bdb4b2" stroke-width="0.25"/>
<circle cx="1702.3" cy="374.4" r="3.20" fill="#fcab8f"/>
<circle cx="1730.6" cy="374.4" r="9.25" fill="#67000d"/>
<circle cx="1758.8" cy="374.4" r="7.85" fill="#ca181d"/>
<circle cx="1787.1" cy="374.4" r="8.85" fill="#67000d"/>
<circle cx="1815.3" cy="374.4" r="8.05" fill="#67000d"/>
<circle cx="1843.6" cy="374.4" r="9.25" fill="#67000d"/>
<circle cx="1871.9" cy="374.4" r="1.00" fill="#ffede5"/>
<circle cx="1900.1" cy="374.4" r="0.75" fill="#bdb4b2" stroke-width="0.25"/>
<circle cx="1928.4" cy="374.4" r="3.95" fill="#fca588"/>
<circle cx="1956.7" cy="374.4" r="9.05" fill="#67000d"/>
<circle cx="1984.9" cy="374.4" r="0.50" fill="#bdb4b2" stroke-width="0.25"/>
<circle cx="2013.2" cy="374.4" r="0.25" fill="#bdb4b2" stroke-width="0.25"/>
<circle cx="2041.4" cy="374.4" r="1.20" fill="#fff0e9"/>
<circle cx="63.1" cy="399.3" r="0.95" fill="#fdcab5"/>
<circle cx="91.4" cy="399.3" r="0.40" fill="#bdb4b2" stroke-width="0.25"/>
<circle cx="119.6" cy="399.3" r="0.50" fill="#bdb4b2" stroke-width="0.25"/>
<circle cx="147.9" cy="399.3" r="0.25" fill="#bdb4b2" stroke-width="0.25"/>
<circle cx="176.1" cy="399.3" r="7.15" fill="#67000d"/>
<circle cx="204.4" cy="399.3" r="2.65" fill="#fee8dd"/>
<circle cx="232.7" cy="399.3" r="1.90" fill="#fee8dd"/>
<circle cx="260.9" cy="399.3" r="3.20" fill="#ffede5"/>
<circle cx="289.2" cy="399.3" r="0.60" fill="#bdb4b2" stroke-width="0.25"/>
<circle cx="317.5" cy="399.3" r="0.25" fill="#bdb4b2" stroke-width="0.25"/>
<circle cx="345.7" cy="399.3" r="0.40" fill="#bdb4b2" stroke-width="0.25"/>
<circle cx="374.0" cy="399.3" r="0.85" fill="#fcab8f"/>
<circle cx="402.2" cy="399.3" r="8.55" fill="#ffede5"/>
<circle cx="430.5" cy="399.3" r="9.95" fill="#fee1d4"/>
<circle cx="458.8" cy="399.3" r="4.35" fill="#fb7a5a"/>
<circle cx="487.0" cy="399.3" r="0.75" fill="#bdb4b2" stroke-width="0.25"/>
<circle cx="515.3" cy="399.3" r="3.80" fill="#ffebe2"/>
<circle cx="543.6" cy="399.3" r="0.50" fill="#bdb4b2" stroke-width="0.25"/>
<circle cx="571.8" cy="399.3" r="0.95" fill="#fff0e9"/>
<circle cx="600.1" cy="399.3" r="0.95" fill="#fdcab5"/>
<circle cx="628.3" cy="399.3" r="1.15" fill="#fff0e9"/>
<circle cx="656.6" cy="399.3" r="0.75" fill="#bdb4b2" stroke-width="0.25"/>
<circle cx="684.9" cy="399.3" r="0.75" fill="#bdb4b2" stroke-width="0.25"/>
<circle cx="713.1" cy="399.3" r="0.75" fill="#bdb4b2" stroke-width="0.25"/>
<circle cx="741.4" cy="399.3" r="0.40" fill="#bdb4b2" stroke-width="0.25"/>
<circle cx="769.6" cy="399.3" r="3.40" fill="#fee1d4"/>
<circle cx="797.9" cy="399.3" r="9.20" fill="#c8171c"/>
<circle cx="826.2" cy="399.3" r="0.95" fill="#fff0e9"/>
<circle cx="854.4" cy="399.3" r="3.05" fill="#fed9c9"/>
<circle cx="882.7" cy="399.3" r="3.60" fill="#fcc4ad"/>
<circle cx="911.0" cy="399.3" r="1.70" fill="#fee8dd"/>
<circle cx="939.2" cy="399.3" r="6.75" fill="#fc8464"/>
<circle cx="967.5" cy="399.3" r="4.15" fill="#fc8a6a"/>
<circle cx="995.7" cy="399.3" r="9.60" fill="#67000d"/>
<circle cx="1024.0" cy="399.3" r="3.80" fill="#fcc4ad"/>
<circle cx="1052.3" cy="399.3" r="3.05" fill="#fdcab5"/>
<circle cx="1080.5" cy="399.3" r="0.40" fill="#bdb4b2" stroke-width="0.25"/>
<circle cx="1108.8" cy="399.3" r="0.50" fill="#bdb4b2" stroke-width="0.25"/>
<circle cx="1137.1" cy="399.3" r="7.50" fill="#67000d"/>
<circle cx="1165.3" cy="399.3" r="8.25" fill="#67000d"/>
<circle cx="1193.6" cy="399.3" r="5.10" fill="#fb694a"/>
<circle cx="1221.8" cy="399.3" r="3.95" fill="#f03d2d"/>
<circle cx="1250.1" cy="399.3" r="6.75" fill="#fc8464"/>
<circle cx="1278.4" cy="399.3" r="9.75" fill="#67000d"/>
<circle cx="1306.6" cy="399.3" r="8.45" fill="#f6583e"/>
<circle cx="1334.9" cy="399.3" r="5.65" fill="#fcb89e"/>
<circle cx="1363.2" cy="399.3" r="0.40" fill="#bdb4b2" stroke-width="0.25"/>
<circle cx="1391.4" cy="399.3" r="0.50" fill="#bdb4b2" stroke-width="0.25"/>
<circle cx="1419.7" cy="399.3" r="8.10" fill="#fc8a6a"/>
<circle cx="1447.9" cy="399.3" r="2.85" fill="#fee8dd"/>
<circle cx="1476.2" cy="399.3" r="3.60" fill="#fdd7c6"/>
<circle cx="1504.5" cy="399.3" r="0.50" fill="#bdb4b2" stroke-width="0.25"/>
<circle cx="1532.7" cy="399.3" r="8.45" fill="#67000d"/>
<circle cx="1561.0" cy="399.3" r="0.50" fill="#bdb4b2" stroke-width="0.25"/>
<circle cx="1589.2" cy="399.3" r="3.20" fill="#fdd0bc"/>
<circle cx="1617.5" cy="399.3" r="2.30" fill="#fee5d8"/>
<circle cx="1645.8" cy="399.3" r="0.40" fill="#bdb4b2" stroke-width="0.25"/>
<circle cx="1674.0" cy="399.3" r="0.60" fill="#bdb4b2" stroke-width="0.25"/>
<circle cx="1702.3" cy="399.3" r="0.50" fill="#bdb4b2" stroke-width="0.25"/>
<circle cx="1730.6" cy="399.3" r="0.40" fill="#bdb4b2" stroke-width="0.25"/>
<circle cx="1758.8" cy="399.3" r="1.00" fill="#fff0e9"/>
<circle cx="1787.1" cy="399.3" r="0.75" fill="#bdb4b2" stroke-width="0.25"/>
<circle cx="1815.3" cy="399.3" r="0.40" fill="#bdb4b2" stroke-width="0.25"/>
<circle cx="1843.6" cy="399.3" r="0.40" fill="#bdb4b2" stroke-width="0.25"/>
<circle cx="1871.9" cy="399.3" r="3.35" fill="#fb7a5a"/>
<circle cx="1900.1" cy="399.3" r="1.40" fill="#fee5d8"/>
<circle cx="1928.4" cy="399.3" r="2.80" fill="#fcc4ad"/>
<circle cx="1956.7" cy="399.3" r="0.60" fill="#bdb4b2" stroke-width="0.25"/>
<circle cx="1984.9" cy="399.3" r="2.40" fill="#fdd0bc"/>
<circle cx="2013.2" cy="399.3" r="0.50" fill="#bdb4b2" stroke-width="0.25"/>
<circle cx="2041.4" cy="399.3" r="8.45" fill="#67000d"/>
<circle cx="63.1" cy="424.2" r="2.65" fill="#ffede5"/>
<circle cx="91.4" cy="424.2" r="1.55" fill="#ffede5"/>
<circle cx="119.6" cy="424.2" r="0.50" fill="#bdb4b2" stroke-width="0.25"/>
<circle cx="147.9" cy="424.2" r="0.60" fill="#bdb4b2" stroke-width="0.25"/>
<circle cx="176.1" cy="424.2" r="1.70" fill="#fff0e9"/>
<circle cx="204.4" cy="424.2" r="3.80" fill="#ffede5"/>
<circle cx="232.7" cy="424.2" r="2.30" fill="#ffede5"/>
<circle cx="260.9" cy="424.2" r="4.70" fill="#ffede5"/>
<circle cx="289.2" cy="424.2" r="1.15" fill="#fdcab5"/>
<circle cx="317.5" cy="424.2" r="0.25" fill="#bdb4b2" stroke-width="0.25"/>
<circle cx="345.7" cy="424.2" r="0.40" fill="#bdb4b2" stroke-width="0.25"/>
<circle cx="374.0" cy="424.2" r="9.00" fill="#71020e"/>
<circle cx="402.2" cy="424.2" r="9.75" fill="#b61319"/>
<circle cx="430.5" cy="424.2" r="9.95" fill="#b61319"/>
<circle cx="458.8" cy="424.2" r="3.80" fill="#fdcab5"/>
<circle cx="487.0" cy="424.2" r="4.70" fill="#7e0610"/>
<circle cx="515.3" cy="424.2" r="9.60" fill="#67000d"/>
<circle cx="543.6" cy="424.2" r="9.35" fill="#67000d"/>
<circle cx="571.8" cy="424.2" r="1.55" fill="#fff2eb"/>
<circle cx="600.1" cy="424.2" r="1.70" fill="#fff2eb"/>
<circle cx="628.3" cy="424.2" r="1.15" fill="#fff0e9"/>
<circle cx="656.6" cy="424.2" r="1.55" fill="#fff0e9"/>
<circle cx="684.9" cy="424.2" r="1.70" fill="#fff0e9"/>
<circle cx="713.1" cy="424.2" r="1.15" fill="#ffede5"/>
<circle cx="741.4" cy="424.2" r="0.60" fill="#bdb4b2" stroke-width="0.25"/>
<circle cx="769.6" cy="424.2" r="5.30" fill="#fee5d8"/>
<circle cx="797.9" cy="424.2" r="8.85" fill="#fcab8f"/>
<circle cx="826.2" cy="424.2" r="1.55" fill="#fff2eb"/>
<circle cx="854.4" cy="424.2" r="1.35" fill="#fff0e9"/>
<circle cx="882.7" cy="424.2" r="0.95" fill="#fcab8f"/>
<circle cx="911.0" cy="424.2" r="1.15" fill="#fcab8f"/>
<circle cx="939.2" cy="424.2" r="1.70" fill="#fff2eb"/>
<circle cx="967.5" cy="424.2" r="0.50" fill="#bdb4b2" stroke-width="0.25"/>
<circle cx="995.7" cy="424.2" r="2.45" fill="#fff2eb"/>
<circle cx="1024.0" cy="424.2" r="0.75" fill="#bdb4b2" stroke-width="0.25"/>
<circle cx="1052.3" cy="424.2" r="8.10" fill="#f4503a"/>
<circle cx="1080.5" cy="424.2" r="0.40" fill="#bdb4b2" stroke-width="0.25"/>
<circle cx="1108.8" cy="424.2" r="0.60" fill="#bdb4b2" stroke-width="0.25"/>
<circle cx="1137.1" cy="424.2" r="0.60" fill="#bdb4b2" stroke-width="0.25"/>
<circle cx="1165.3" cy="424.2" r="0.75" fill="#bdb4b2" stroke-width="0.25"/>
<circle cx="1193.6" cy="424.2" r="6.20" fill="#fcab8f"/>
<circle cx="1221.8" cy="424.2" r="0.75" fill="#bdb4b2" stroke-width="0.25"/>
<circle cx="1250.1" cy="424.2" r="1.70" fill="#fff5f0"/>
<circle cx="1278.4" cy="424.2" r="2.30" fill="#fff0e9"/>
<circle cx="1306.6" cy="424.2" r="0.60" fill="#bdb4b2" stroke-width="0.25"/>
<circle cx="1334.9" cy="424.2" r="7.15" fill="#fdd0bc"/>
<circle cx="1363.2" cy="424.2" r="1.35" fill="#fff0e9"/>
<circle cx="1391.4" cy="424.2" r="0.60" fill="#bdb4b2" stroke-width="0.25"/>
<circle cx="1419.7" cy="424.2" r="7.15" fill="#ffede5"/>
<circle cx="1447.9" cy="424.2" r="0.75" fill="#bdb4b2" stroke-width="0.25"/>
<circle cx="1476.2" cy="424.2" r="3.80" fill="#fee8dd"/>
<circle cx="1504.5" cy="424.2" r="0.60" fill="#bdb4b2" stroke-width="0.25"/>
<circle cx="1532.7" cy="424.2" r="0.60" fill="#bdb4b2" stroke-width="0.25"/>
<circle cx="1561.0" cy="424.2" r="1.70" fill="#fff2eb"/>
<circle cx="1589.2" cy="424.2" r="1.70" fill="#fff2eb"/>
<circle cx="1617.5" cy="424.2" r="1.90" fill="#fff2eb"/>
<circle cx="1645.8" cy="424.2" r="0.75" fill="#bdb4b2" stroke-width="0.25"/>
<circle cx="1674.0" cy="424.2" r="0.75" fill="#bdb4b2" stroke-width="0.25"/>
<circle cx="1702.3" cy="424.2" r="0.60" fill="#bdb4b2" stroke-width="0.25"/>
<circle cx="1730.6" cy="424.2" r="0.75" fill="#bdb4b2" stroke-width="0.25"/>
<circle cx="1758.8" cy="424.2" r="1.80" fill="#fff2eb"/>
<circle cx="1787.1" cy="424.2" r="0.75" fill="#bdb4b2" stroke-width="0.25"/>
<circle cx="1815.3" cy="424.2" r="0.60" fill="#bdb4b2" stroke-width="0.25"/>
<circle cx="1843.6" cy="424.2" r="0.75" fill="#bdb4b2" stroke-width="0.25"/>
<circle cx="1871.9" cy="424.2" r="1.20" fill="#fff0e9"/>
<circle cx="1900.1" cy="424.2" r="1.20" fill="#fff0e9"/>
<circle cx="1928.4" cy="424.2" r="2.20" fill="#fff2eb"/>
<circle cx="1956.7" cy="424.2" r="0.60" fill="#bdb4b2" stroke-width="0.25"/>
<circle cx="1984.9" cy="424.2" r="0.50" fill="#bdb4b2" stroke-width="0.25"/>
<circle cx="2013.2" cy="424.2" r="4.55" fill="#fc9b7c"/>
<circle cx="2041.4" cy="424.2" r="2.20" fill="#fff0e9"/>
<circle cx="63.1" cy="449.1" r="1.15" fill="#fee8dd"/>
<circle cx="91.4" cy="449.1" r="0.75" fill="#bdb4b2" stroke-width="0.25"/>
<circle cx="119.6" cy="449.1" r="0.40" fill="#bdb4b2" stroke-width="0.25"/>
<circle cx="147.9" cy="449.1" r="0.40" fill="#bdb4b2" stroke-width="0.25"/>
<circle cx="176.1" cy="449.1" r="4.70" fill="#fed9c9"/>
<circle cx="204.4" cy="449.1" r="2.10" fill="#fff0e9"/>
<circle cx="232.7" cy="449.1" r="5.85" fill="#fcc4ad"/>
<circle cx="260.9" cy="449.1" r="3.60" fill="#fff0e9"/>
<circle cx="289.2" cy="449.1" r="0.95" fill="#fcab8f"/>
<circle cx="345.7" cy="449.1" r="0.40" fill="#bdb4b2" stroke-width="0.25"/>
<circle cx="374.0" cy="449.1" r="2.65" fill="#fcc4ad"/>
<circle cx="402.2" cy="449.1" r="9.60" fill="#ffebe2"/>
<circle cx="430.5" cy="449.1" r="9.95" fill="#fff2eb"/>
<circle cx="458.8" cy="449.1" r="3.95" fill="#fdcab5"/>
<circle cx="487.0" cy="449.1" r="2.65" fill="#fdd0bc"/>
<circle cx="515.3" cy="449.1" r="3.95" fill="#fff0e9"/>
<circle cx="543.6" cy="449.1" r="0.75" fill="#bdb4b2" stroke-width="0.25"/>
<circle cx="571.8" cy="449.1" r="0.75" fill="#bdb4b2" stroke-width="0.25"/>
<circle cx="600.1" cy="449.1" r="1.70" fill="#fff2eb"/>
<circle cx="628.3" cy="449.1" r="1.55" fill="#fff0e9"/>
<circle cx="656.6" cy="449.1" r="1.35" fill="#fff0e9"/>
<circle cx="684.9" cy="449.1" r="1.70" fill="#fff0e9"/>
<circle cx="713.1" cy="449.1" r="0.75" fill="#bdb4b2" stroke-width="0.25"/>
<circle cx="741.4" cy="449.1" r="0.40" fill="#bdb4b2" stroke-width="0.25"/>
<circle cx="769.6" cy="449.1" r="3.20" fill="#ffebe2"/>
<circle cx="797.9" cy="449.1" r="7.70" fill="#fcb296"/>
<circle cx="826.2" cy="449.1" r="0.75" fill="#bdb4b2" stroke-width="0.25"/>
<circle cx="854.4" cy="449.1" r="5.30" fill="#fcbba1"/>
<circle cx="882.7" cy="449.1" r="2.65" fill="#fee5d8"/>
<circle cx="911.0" cy="449.1" r="1.15" fill="#fdcab5"/>
<circle cx="939.2" cy="449.1" r="0.75" fill="#bdb4b2" stroke-width="0.25"/>
<circle cx="967.5" cy="449.1" r="1.35" fill="#fff0e9"/>
<circle cx="995.7" cy="449.1" r="2.85" fill="#fee5d8"/>
<circle cx="1024.0" cy="449.1" r="2.65" fill="#fee5d8"/>
<circle cx="1052.3" cy="449.1" r="6.75" fill="#67000d"/>
<circle cx="1080.5" cy="449.1" r="4.15" fill="#67000d"/>
<circle cx="1108.8" cy="449.1" r="6.40" fill="#d32020"/>
<circle cx="1137.1" cy="449.1" r="6.20" fill="#fb7151"/>
<circle cx="1165.3" cy="449.1" r="0.95" fill="#fcab8f"/>
<circle cx="1193.6" cy="449.1" r="2.10" fill="#fff0e9"/>
<circle cx="1221.8" cy="449.1" r="3.40" fill="#fc9070"/>
<circle cx="1250.1" cy="449.1" r="0.75" fill="#bdb4b2" stroke-width="0.25"/>
<circle cx="1278.4" cy="449.1" r="2.85" fill="#fee8dd"/>
<circle cx="1306.6" cy="449.1" r="9.35" fill="#67000d"/>
<circle cx="1334.9" cy="449.1" r="9.60" fill="#67000d"/>
<circle cx="1363.2" cy="449.1" r="5.65" fill="#980c13"/>
<circle cx="1391.4" cy="449.1" r="6.40" fill="#d32020"/>
<circle cx="1419.7" cy="449.1" r="9.20" fill="#67000d"/>
<circle cx="1447.9" cy="449.1" r="6.95" fill="#71020e"/>
<circle cx="1476.2" cy="449.1" r="8.45" fill="#6b010e"/>
<circle cx="1504.5" cy="449.1" r="6.40" fill="#d32020"/>
<circle cx="1532.7" cy="449.1" r="1.15" fill="#fcab8f"/>
<circle cx="1589.2" cy="449.1" r="1.55" fill="#fff0e9"/>
<circle cx="1617.5" cy="449.1" r="4.35" fill="#fed9c9"/>
<circle cx="1645.8" cy="449.1" r="0.75" fill="#bdb4b2" stroke-width="0.25"/>
<circle cx="1674.0" cy="449.1" r="0.50" fill="#bdb4b2" stroke-width="0.25"/>
<circle cx="1702.3" cy="449.1" r="0.60" fill="#bdb4b2" stroke-width="0.25"/>
<circle cx="1730.6" cy="449.1" r="0.75" fill="#bdb4b2" stroke-width="0.25"/>
<circle cx="1758.8" cy="449.1" r="2.20" fill="#fff0e9"/>
<circle cx="1787.1" cy="449.1" r="0.75" fill="#bdb4b2" stroke-width="0.25"/>
<circle cx="1815.3" cy="449.1" r="0.75" fill="#bdb4b2" stroke-width="0.25"/>
<circle cx="1843.6" cy="449.1" r="0.75" fill="#bdb4b2" stroke-width="0.25"/>
<circle cx="1871.9" cy="449.1" r="1.40" fill="#ffede5"/>
<circle cx="1900.1" cy="449.1" r="0.85" fill="#fcab8f"/>
<circle cx="1928.4" cy="449.1" r="1.85" fill="#fff0e9"/>
<circle cx="1956.7" cy="449.1" r="0.60" fill="#bdb4b2" stroke-width="0.25"/>
<circle cx="1984.9" cy="449.1" r="0.75" fill="#bdb4b2" stroke-width="0.25"/>
<circle cx="2013.2" cy="449.1" r="5.35" fill="#ca181d"/>
<circle cx="2041.4" cy="449.1" r="7.30" fill="#fc8a6a"/>
<circle cx="63.1" cy="474.1" r="0.95" fill="#fcab8f"/>
<circle cx="91.4" cy="474.1" r="0.40" fill="#bdb4b2" stroke-width="0.25"/>
<circle cx="119.6" cy="474.1" r="0.25" fill="#bdb4b2" stroke-width="0.25"/>
<circle cx="147.9" cy="474.1" r="0.40" fill="#bdb4b2" stroke-width="0.25"/>
<circle cx="176.1" cy="474.1" r="6.00" fill="#f34c37"/>
<circle cx="204.4" cy="474.1" r="0.95" fill="#fcab8f"/>
<circle cx="232.7" cy="474.1" r="5.30" fill="#fcc4ad"/>
<circle cx="260.9" cy="474.1" r="2.85" fill="#fff0e9"/>
<circle cx="289.2" cy="474.1" r="0.50" fill="#bdb4b2" stroke-width="0.25"/>
<circle cx="317.5" cy="474.1" r="0.25" fill="#bdb4b2" stroke-width="0.25"/>
<circle cx="345.7" cy="474.1" r="0.25" fill="#bdb4b2" stroke-width="0.25"/>
<circle cx="374.0" cy="474.1" r="0.75" fill="#bdb4b2" stroke-width="0.25"/>
<circle cx="402.2" cy="474.1" r="9.00" fill="#fee8dd"/>
<circle cx="430.5" cy="474.1" r="9.95" fill="#fee5d8"/>
<circle cx="458.8" cy="474.1" r="1.70" fill="#fff0e9"/>
<circle cx="487.0" cy="474.1" r="0.75" fill="#bdb4b2" stroke-width="0.25"/>
<circle cx="515.3" cy="474.1" r="3.40" fill="#fff0e9"/>
<circle cx="543.6" cy="474.1" r="0.40" fill="#bdb4b2" stroke-width="0.25"/>
<circle cx="571.8" cy="474.1" r="0.75" fill="#bdb4b2" stroke-width="0.25"/>
<circle cx="600.1" cy="474.1" r="0.75" fill="#bdb4b2" stroke-width="0.25"/>
<circle cx="628.3" cy="474.1" r="0.75" fill="#bdb4b2" stroke-width="0.25"/>
<circle cx="656.6" cy="474.1" r="0.50" fill="#bdb4b2" stroke-width="0.25"/>
<circle cx="684.9" cy="474.1" r="0.60" fill="#bdb4b2" stroke-width="0.25"/>
<circle cx="713.1" cy="474.1" r="0.60" fill="#bdb4b2" stroke-width="0.25"/>
<circle cx="741.4" cy="474.1" r="0.25" fill="#bdb4b2" stroke-width="0.25"/>
<circle cx="769.6" cy="474.1" r="1.90" fill="#fff2eb"/>
<circle cx="797.9" cy="474.1" r="9.35" fill="#f03d2d"/>
<circle cx="826.2" cy="474.1" r="0.75" fill="#bdb4b2" stroke-width="0.25"/>
<circle cx="854.4" cy="474.1" r="3.20" fill="#fed9c9"/>
<circle cx="882.7" cy="474.1" r="9.60" fill="#67000d"/>
<circle cx="911.0" cy="474.1" r="6.75" fill="#880811"/>
<circle cx="939.2" cy="474.1" r="8.85" fill="#67000d"/>
<circle cx="967.5" cy="474.1" r="7.35" fill="#8e0912"/>
<circle cx="995.7" cy="474.1" r="9.20" fill="#ac1117"/>
<circle cx="1024.0" cy="474.1" r="9.75" fill="#67000d"/>
<circle cx="1052.3" cy="474.1" r="3.60" fill="#fc9b7c"/>
<circle cx="1080.5" cy="474.1" r="1.15" fill="#fcab8f"/>
<circle cx="1108.8" cy="474.1" r="0.75" fill="#bdb4b2" stroke-width="0.25"/>
<circle cx="1137.1" cy="474.1" r="2.45" fill="#fee5d8"/>
<circle cx="1165.3" cy="474.1" r="6.75" fill="#f96245"/>
<circle cx="1193.6" cy="474.1" r="6.95" fill="#ca181d"/>
<circle cx="1221.8" cy="474.1" r="5.85" fill="#71020e"/>
<circle cx="1250.1" cy="474.1" r="8.65" fill="#67000d"/>
<circle cx="1278.4" cy="474.1" r="9.20" fill="#ac1117"/>
<circle cx="1306.6" cy="474.1" r="4.15" fill="#fee1d4"/>
<circle cx="1334.9" cy="474.1" r="5.85" fill="#fdd0bc"/>
<circle cx="1363.2" cy="474.1" r="0.40" fill="#bdb4b2" stroke-width="0.25"/>
<circle cx="1391.4" cy="474.1" r="0.75" fill="#bdb4b2" stroke-width="0.25"/>
<circle cx="1419.7" cy="474.1" r="9.75" fill="#bc141a"/>
<circle cx="1447.9" cy="474.1" r="4.70" fill="#fdd0bc"/>
<circle cx="1476.2" cy="474.1" r="2.30" fill="#fee8dd"/>
<circle cx="1504.5" cy="474.1" r="0.75" fill="#bdb4b2" stroke-width="0.25"/>
<circle cx="1532.7" cy="474.1" r="6.75" fill="#f96245"/>
<circle cx="1561.0" cy="474.1" r="0.50" fill="#bdb4b2" stroke-width="0.25"/>
<circle cx="1589.2" cy="474.1" r="1.55" fill="#fff0e9"/>
<circle cx="1617.5" cy="474.1" r="6.20" fill="#fc9070"/>
<circle cx="1645.8" cy="474.1" r="0.60" fill="#bdb4b2" stroke-width="0.25"/>
<circle cx="1674.0" cy="474.1" r="0.60" fill="#bdb4b2" stroke-width="0.25"/>
<circle cx="1702.3" cy="474.1" r="0.40" fill="#bdb4b2" stroke-width="0.25"/>
<circle cx="1730.6" cy="474.1" r="0.50" fill="#bdb4b2" stroke-width="0.25"/>
<circle cx="1758.8" cy="474.1" r="1.20" fill="#fff0e9"/>
<circle cx="1787.1" cy="474.1" r="0.60" fill="#bdb4b2" stroke-width="0.25"/>
<circle cx="1815.3" cy="474.1" r="0.40" fill="#bdb4b2" stroke-width="0.25"/>
<circle cx="1843.6" cy="474.1" r="0.50" fill="#bdb4b2" stroke-width="0.25"/>
<circle cx="1871.9" cy="474.1" r="0.75" fill="#bdb4b2" stroke-width="0.25"/>
<circle cx="1900.1" cy="474.1" r="4.35" fill="#f96245"/>
<circle cx="1928.4" cy="474.1" r="2.40" fill="#fed9c9"/>
<circle cx="1956.7" cy="474.1" r="0.60" fill="#bdb4b2" stroke-width="0.25"/>
<circle cx="1984.9" cy="474.1" r="0.60" fill="#bdb4b2" stroke-width="0.25"/>
<circle cx="2013.2" cy="474.1" r="4.15" fill="#b61319"/>
<circle cx="2041.4" cy="474.1" r="6.30" fill="#fb7a5a"/>
<circle cx="63.1" cy="499.0" r="0.95" fill="#bdb4b2" stroke-width="0.25"/>
<circle cx="91.4" cy="499.0" r="0.50" fill="#bdb4b2" stroke-width="0.25"/>
<circle cx="119.6" cy="499.0" r="0.75" fill="#bdb4b2" stroke-width="0.25"/>
<circle cx="147.9" cy="499.0" r="2.65" fill="#fdcab5"/>
<circle cx="176.1" cy="499.0" r="1.15" fill="#fee5d8"/>
<circle cx="204.4" cy="499.0" r="0.95" fill="#fcab8f"/>
<circle cx="232.7" cy="499.0" r="4.70" fill="#fcc4ad"/>
<circle cx="260.9" cy="499.0" r="2.65" fill="#fff0e9"/>
<circle cx="289.2" cy="499.0" r="0.50" fill="#bdb4b2" stroke-width="0.25"/>
<circle cx="317.5" cy="499.0" r="0.25" fill="#bdb4b2" stroke-width="0.25"/>
<circle cx="345.7" cy="499.0" r="0.25" fill="#bdb4b2" stroke-width="0.25"/>
<circle cx="374.0" cy="499.0" r="0.75" fill="#bdb4b2" stroke-width="0.25"/>
<circle cx="402.2" cy="499.0" r="8.65" fill="#feeae0"/>
<circle cx="430.5" cy="499.0" r="9.95" fill="#fee1d4"/>
<circle cx="458.8" cy="499.0" r="2.45" fill="#fdd0bc"/>
<circle cx="487.0" cy="499.0" r="2.45" fill="#fc8464"/>
<circle cx="515.3" cy="499.0" r="3.20" fill="#ffeee7"/>
<circle cx="543.6" cy="499.0" r="0.60" fill="#bdb4b2" stroke-width="0.25"/>
<circle cx="571.8" cy="499.0" r="4.90" fill="#fcb296"/>
<circle cx="600.1" cy="499.0" r="8.85" fill="#f34c37"/>
<circle cx="628.3" cy="499.0" r="6.75" fill="#fc9070"/>
<circle cx="656.6" cy="499.0" r="0.60" fill="#bdb4b2" stroke-width="0.25"/>
<circle cx="684.9" cy="499.0" r="1.90" fill="#ffede5"/>
<circle cx="713.1" cy="499.0" r="6.75" fill="#67000d"/>
<circle cx="741.4" cy="499.0" r="2.85" fill="#fcc4ad"/>
<circle cx="769.6" cy="499.0" r="8.25" fill="#d32020"/>
<circle cx="797.9" cy="499.0" r="9.00" fill="#f6583e"/>
<circle cx="826.2" cy="499.0" r="4.90" fill="#fca588"/>
<circle cx="854.4" cy="499.0" r="6.20" fill="#f14432"/>
<circle cx="882.7" cy="499.0" r="1.35" fill="#ffede5"/>
<circle cx="911.0" cy="499.0" r="1.70" fill="#ffede5"/>
<circle cx="939.2" cy="499.0" r="0.75" fill="#bdb4b2" stroke-width="0.25"/>
<circle cx="967.5" cy="499.0" r="0.25" fill="#bdb4b2" stroke-width="0.25"/>
<circle cx="995.7" cy="499.0" r="1.70" fill="#fff2eb"/>
<circle cx="1024.0" cy="499.0" r="1.55" fill="#fee5d8"/>
<circle cx="1052.3" cy="499.0" r="6.00" fill="#a10e15"/>
<circle cx="1080.5" cy="499.0" r="0.25" fill="#bdb4b2" stroke-width="0.25"/>
<circle cx="1108.8" cy="499.0" r="4.90" fill="#de2b25"/>
<circle cx="1137.1" cy="499.0" r="0.75" fill="#bdb4b2" stroke-width="0.25"/>
<circle cx="1165.3" cy="499.0" r="0.40" fill="#bdb4b2" stroke-width="0.25"/>
<circle cx="1193.6" cy="499.0" r="0.25" fill="#bdb4b2" stroke-width="0.25"/>
<circle cx="1221.8" cy="499.0" r="0.40" fill="#bdb4b2" stroke-width="0.25"/>
<circle cx="1250.1" cy="499.0" r="0.60" fill="#bdb4b2" stroke-width="0.25"/>
<circle cx="1278.4" cy="499.0" r="1.70" fill="#fff2eb"/>
<circle cx="1306.6" cy="499.0" r="0.50" fill="#bdb4b2" stroke-width="0.25"/>
<circle cx="1334.9" cy="499.0" r="6.60" fill="#fcb296"/>
<circle cx="1363.2" cy="499.0" r="1.35" fill="#fdcab5"/>
<circle cx="1391.4" cy="499.0" r="5.10" fill="#de2b25"/>
<circle cx="1419.7" cy="499.0" r="5.30" fill="#fee8dd"/>
<circle cx="1447.9" cy="499.0" r="0.75" fill="#bdb4b2" stroke-width="0.25"/>
<circle cx="1476.2" cy="499.0" r="5.10" fill="#fca183"/>
<circle cx="1504.5" cy="499.0" r="5.10" fill="#de2b25"/>
<circle cx="1532.7" cy="499.0" r="0.25" fill="#bdb4b2" stroke-width="0.25"/>
<circle cx="1561.0" cy="499.0" r="1.70" fill="#fee5d8"/>
<circle cx="1589.2" cy="499.0" r="6.00" fill="#c8171c"/>
<circle cx="1617.5" cy="499.0" r="8.45" fill="#67000d"/>
<circle cx="1645.8" cy="499.0" r="6.50" fill="#67000d"/>
<circle cx="1674.0" cy="499.0" r="5.70" fill="#67000d"/>
<circle cx="1702.3" cy="499.0" r="6.70" fill="#67000d"/>
<circle cx="1730.6" cy="499.0" r="8.25" fill="#e22e27"/>
<circle cx="1758.8" cy="499.0" r="9.65" fill="#67000d"/>
<circle cx="1787.1" cy="499.0" r="3.75" fill="#fcbba1"/>
<circle cx="1815.3" cy="499.0" r="4.95" fill="#e83429"/>
<circle cx="1843.6" cy="499.0" r="8.25" fill="#e22e27"/>
<circle cx="1871.9" cy="499.0" r="1.80" fill="#fee8dd"/>
<circle cx="1900.1" cy="499.0" r="1.60" fill="#ffede5"/>
<circle cx="1928.4" cy="499.0" r="5.35" fill="#f75b40"/>
<circle cx="1956.7" cy="499.0" r="3.95" fill="#fcb296"/>
<circle cx="1984.9" cy="499.0" r="0.25" fill="#bdb4b2" stroke-width="0.25"/>
<circle cx="2041.4" cy="499.0" r="0.25" fill="#bdb4b2" stroke-width="0.25"/>
<circle cx="63.1" cy="523.9" r="1.55" fill="#fff0e9"/>
<circle cx="91.4" cy="523.9" r="0.75" fill="#bdb4b2" stroke-width="0.25"/>
<circle cx="119.6" cy="523.9" r="0.50" fill="#bdb4b2" stroke-width="0.25"/>
<circle cx="147.9" cy="523.9" r="0.75" fill="#bdb4b2" stroke-width="0.25"/>
<circle cx="176.1" cy="523.9" r="1.35" fill="#ffede5"/>
<circle cx="204.4" cy="523.9" r="1.55" fill="#ffede5"/>
<circle cx="232.7" cy="523.9" r="2.10" fill="#fff0e9"/>
<circle cx="260.9" cy="523.9" r="3.80" fill="#fff0e9"/>
<circle cx="289.2" cy="523.9" r="0.50" fill="#bdb4b2" stroke-width="0.25"/>
<circle cx="345.7" cy="523.9" r="0.25" fill="#bdb4b2" stroke-width="0.25"/>
<circle cx="374.0" cy="523.9" r="1.55" fill="#fff0e9"/>
<circle cx="402.2" cy="523.9" r="9.75" fill="#7e0610"/>
<circle cx="430.5" cy="523.9" r="9.75" fill="#7e0610"/>
<circle cx="458.8" cy="523.9" r="1.15" fill="#ffede5"/>
<circle cx="487.0" cy="523.9" r="0.75" fill="#bdb4b2" stroke-width="0.25"/>
<circle cx="515.3" cy="523.9" r="9.60" fill="#ac1117"/>
<circle cx="543.6" cy="523.9" r="8.25" fill="#d32020"/>
<circle cx="571.8" cy="523.9" r="1.70" fill="#fff2eb"/>
<circle cx="600.1" cy="523.9" r="1.70" fill="#fff2eb"/>
<circle cx="628.3" cy="523.9" r="2.30" fill="#fff0e9"/>
<circle cx="656.6" cy="523.9" r="0.75" fill="#bdb4b2" stroke-width="0.25"/>
<circle cx="684.9" cy="523.9" r="1.35" fill="#ffede5"/>
<circle cx="713.1" cy="523.9" r="0.75" fill="#bdb4b2" stroke-width="0.25"/>
<circle cx="741.4" cy="523.9" r="0.75" fill="#bdb4b2" stroke-width="0.25"/>
<circle cx="769.6" cy="523.9" r="4.90" fill="#fee1d4"/>
<circle cx="797.9" cy="523.9" r="8.25" fill="#fcab8f"/>
<circle cx="826.2" cy="523.9" r="1.55" fill="#fff2eb"/>
<circle cx="854.4" cy="523.9" r="1.90" fill="#ffede5"/>
<circle cx="882.7" cy="523.9" r="1.15" fill="#ffede5"/>
<circle cx="911.0" cy="523.9" r="1.35" fill="#fee5d8"/>
<circle cx="939.2" cy="523.9" r="1.55" fill="#fff0e9"/>
<circle cx="967.5" cy="523.9" r="0.95" fill="#fcab8f"/>
<circle cx="995.7" cy="523.9" r="2.45" fill="#ffede5"/>
<circle cx="1024.0" cy="523.9" r="1.35" fill="#fee8dd"/>
<circle cx="1052.3" cy="523.9" r="5.10" fill="#fca588"/>
<circle cx="1080.5" cy="523.9" r="0.25" fill="#bdb4b2" stroke-width="0.25"/>
<circle cx="1108.8" cy="523.9" r="0.75" fill="#bdb4b2" stroke-width="0.25"/>
<circle cx="1137.1" cy="523.9" r="0.75" fill="#bdb4b2" stroke-width="0.25"/>
<circle cx="1165.3" cy="523.9" r="0.95" fill="#fcab8f"/>
<circle cx="1193.6" cy="523.9" r="2.10" fill="#ffede5"/>
<circle cx="1221.8" cy="523.9" r="0.75" fill="#bdb4b2" stroke-width="0.25"/>
<circle cx="1250.1" cy="523.9" r="1.70" fill="#fff0e9"/>
<circle cx="1278.4" cy="523.9" r="2.30" fill="#ffede5"/>
<circle cx="1306.6" cy="523.9" r="0.95" fill="#fcab8f"/>
<circle cx="1334.9" cy="523.9" r="3.20" fill="#ffede5"/>
<circle cx="1363.2" cy="523.9" r="0.25" fill="#bdb4b2" stroke-width="0.25"/>
<circle cx="1391.4" cy="523.9" r="0.95" fill="#fcab8f"/>
<circle cx="1419.7" cy="523.9" r="6.20" fill="#ffebe2"/>
<circle cx="1447.9" cy="523.9" r="1.15" fill="#ffede5"/>
<circle cx="1476.2" cy="523.9" r="1.70" fill="#fff2eb"/>
<circle cx="1504.5" cy="523.9" r="0.95" fill="#fcab8f"/>
<circle cx="1532.7" cy="523.9" r="0.95" fill="#fcab8f"/>
<circle cx="1561.0" cy="523.9" r="0.95" fill="#bdb4b2" stroke-width="0.25"/>
<circle cx="1589.2" cy="523.9" r="2.65" fill="#fee5d8"/>
<circle cx="1617.5" cy="523.9" r="3.20" fill="#fee8dd"/>
<circle cx="1645.8" cy="523.9" r="1.20" fill="#ffede5"/>
<circle cx="1674.0" cy="523.9" r="0.85" fill="#fcab8f"/>
<circle cx="1702.3" cy="523.9" r="0.85" fill="#fcab8f"/>
<circle cx="1730.6" cy="523.9" r="1.20" fill="#fff0e9"/>
<circle cx="1758.8" cy="523.9" r="2.20" fill="#fff0e9"/>
<circle cx="1787.1" cy="523.9" r="1.00" fill="#fcab8f"/>
<circle cx="1815.3" cy="523.9" r="0.85" fill="#fcab8f"/>
<circle cx="1843.6" cy="523.9" r="1.20" fill="#fff0e9"/>
<circle cx="1871.9" cy="523.9" r="1.60" fill="#fff2eb"/>
<circle cx="1900.1" cy="523.9" r="1.60" fill="#fff2eb"/>
<circle cx="1928.4" cy="523.9" r="2.40" fill="#fee8dd"/>
<circle cx="1956.7" cy="523.9" r="1.00" fill="#ffede5"/>
<circle cx="1984.9" cy="523.9" r="0.25" fill="#bdb4b2" stroke-width="0.25"/>
<circle cx="2013.2" cy="523.9" r="0.85" fill="#fcab8f"/>
<circle cx="2041.4" cy="523.9" r="1.20" fill="#fff0e9"/>
<circle cx="63.1" cy="548.9" r="1.55" fill="#fff2eb"/>
<circle cx="91.4" cy="548.9" r="0.75" fill="#bdb4b2" stroke-width="0.25"/>
<circle cx="119.6" cy="548.9" r="3.20" fill="#fc9070"/>
<circle cx="147.9" cy="548.9" r="0.60" fill="#bdb4b2" stroke-width="0.25"/>
<circle cx="176.1" cy="548.9" r="6.20" fill="#fc8a6a"/>
<circle cx="204.4" cy="548.9" r="5.85" fill="#fedccd"/>
<circle cx="232.7" cy="548.9" r="4.90" fill="#fee5d8"/>
<circle cx="260.9" cy="548.9" r="4.70" fill="#ffeee7"/>
<circle cx="289.2" cy="548.9" r="2.10" fill="#fee5d8"/>
<circle cx="345.7" cy="548.9" r="2.85" fill="#fee5d8"/>
<circle cx="374.0" cy="548.9" r="4.70" fill="#fc8464"/>
<circle cx="402.2" cy="548.9" r="9.60" fill="#fff0e9"/>
<circle cx="430.5" cy="548.9" r="9.95" fill="#ffede5"/>
<circle cx="458.8" cy="548.9" r="8.25" fill="#67000d"/>
<circle cx="487.0" cy="548.9" r="6.40" fill="#67000d"/>
<circle cx="515.3" cy="548.9" r="4.35" fill="#fff0e9"/>
<circle cx="543.6" cy="548.9" r="1.15" fill="#fff0e9"/>
<circle cx="571.8" cy="548.9" r="1.15" fill="#fff0e9"/>
<circle cx="600.1" cy="548.9" r="3.80" fill="#ffeee7"/>
<circle cx="628.3" cy="548.9" r="1.15" fill="#fff0e9"/>
<circle cx="656.6" cy="548.9" r="2.45" fill="#ffede5"/>
<circle cx="684.9" cy="548.9" r="2.85" fill="#ffebe2"/>
<circle cx="713.1" cy="548.9" r="2.85" fill="#fee1d4"/>
<circle cx="741.4" cy="548.9" r="0.40" fill="#bdb4b2" stroke-width="0.25"/>
<circle cx="769.6" cy="548.9" r="5.65" fill="#fdd0bc"/>
<circle cx="797.9" cy="548.9" r="9.20" fill="#f5533b"/>
<circle cx="826.2" cy="548.9" r="1.35" fill="#fff0e9"/>
<circle cx="854.4" cy="548.9" r="3.80" fill="#fee1d4"/>
<circle cx="882.7" cy="548.9" r="2.30" fill="#fee5d8"/>
<circle cx="911.0" cy="548.9" r="1.70" fill="#fff2eb"/>
<circle cx="939.2" cy="548.9" r="4.70" fill="#fee1d4"/>
<circle cx="967.5" cy="548.9" r="0.95" fill="#fcab8f"/>
<circle cx="995.7" cy="548.9" r="7.35" fill="#fcab8f"/>
<circle cx="1024.0" cy="548.9" r="2.30" fill="#fee5d8"/>
<circle cx="1052.3" cy="548.9" r="6.00" fill="#fc9b7c"/>
<circle cx="1080.5" cy="548.9" r="0.40" fill="#bdb4b2" stroke-width="0.25"/>
<circle cx="1108.8" cy="548.9" r="0.95" fill="#fcab8f"/>
<circle cx="1137.1" cy="548.9" r="3.05" fill="#fed9c9"/>
<circle cx="1165.3" cy="548.9" r="4.15" fill="#fcc4ad"/>
<circle cx="1193.6" cy="548.9" r="7.70" fill="#d92523"/>
<circle cx="1221.8" cy="548.9" r="2.30" fill="#fed9c9"/>
<circle cx="1250.1" cy="548.9" r="4.90" fill="#fee1d4"/>
<circle cx="1278.4" cy="548.9" r="7.35" fill="#fcab8f"/>
<circle cx="1306.6" cy="548.9" r="7.15" fill="#fcab8f"/>
<circle cx="1334.9" cy="548.9" r="8.45" fill="#fca183"/>
<circle cx="1363.2" cy="548.9" r="3.05" fill="#fc9b7c"/>
<circle cx="1391.4" cy="548.9" r="0.95" fill="#ffede5"/>
<circle cx="1419.7" cy="548.9" r="7.15" fill="#fee8dd"/>
<circle cx="1447.9" cy="548.9" r="3.40" fill="#fee5d8"/>
<circle cx="1476.2" cy="548.9" r="7.85" fill="#fb7757"/>
<circle cx="1504.5" cy="548.9" r="0.95" fill="#fff0e9"/>
<circle cx="1532.7" cy="548.9" r="4.15" fill="#fcb296"/>
<circle cx="1561.0" cy="548.9" r="1.70" fill="#fff4ee"/>
<circle cx="1589.2" cy="548.9" r="3.20" fill="#fee5d8"/>
<circle cx="1617.5" cy="548.9" r="4.15" fill="#fee5d8"/>
<circle cx="1645.8" cy="548.9" r="0.75" fill="#bdb4b2" stroke-width="0.25"/>
<circle cx="1674.0" cy="548.9" r="0.75" fill="#bdb4b2" stroke-width="0.25"/>
<circle cx="1702.3" cy="548.9" r="0.75" fill="#bdb4b2" stroke-width="0.25"/>
<circle cx="1730.6" cy="548.9" r="0.75" fill="#bdb4b2" stroke-width="0.25"/>
<circle cx="1758.8" cy="548.9" r="2.00" fill="#fff4ee"/>
<circle cx="1787.1" cy="548.9" r="0.75" fill="#bdb4b2" stroke-width="0.25"/>
<circle cx="1815.3" cy="548.9" r="0.50" fill="#bdb4b2" stroke-width="0.25"/>
<circle cx="1843.6" cy="548.9" r="0.60" fill="#bdb4b2" stroke-width="0.25"/>
<circle cx="1871.9" cy="548.9" r="3.95" fill="#fb7a5a"/>
<circle cx="1900.1" cy="548.9" r="1.40" fill="#ffede5"/>
<circle cx="1928.4" cy="548.9" r="3.95" fill="#fed9c9"/>
<circle cx="1956.7" cy="548.9" r="0.75" fill="#bdb4b2" stroke-width="0.25"/>
<circle cx="1984.9" cy="548.9" r="2.60" fill="#fee1d4"/>
<circle cx="2013.2" cy="548.9" r="2.20" fill="#fed9c9"/>
<circle cx="2041.4" cy="548.9" r="8.65" fill="#d92523"/>
</g>
<path d="M40.5 175.5H2064.5V574.5H40.5ZM35.0 200.5H40.5M35.0 225.5H40.5M35.0 250.5H40.5M35.0 275.5H40.5M35.0 300.5H40.5M35.0 324.5H40.5M35.0 349.5H40.5M35.0 374.5H40.5M35.0 399.5H40.5M35.0 424.5H40.5M35.0 449.5H40.5M35.0 474.5H40.5M35.0 499.5H40.5M35.0 524.5H40.5M35.0 549.5H40.5M63.5 574.5V580.0M91.5 574.5V580.0M120.5 574.5V580.0M148.5 574.5V580.0M176.5 574.5V580.0M204.5 574.5V580.0M233.5 574.5V580.0M261.5 574.5V580.0M289.5 574.5V580.0M317.5 574.5V580.0M346.5 574.5V580.0M374.5 574.5V580.0M402.5 574.5V580.0M431.5 574.5V580.0M459.5 574.5V580.0M487.5 574.5V580.0M515.5 574.5V580.0M544.5 574.5V580.0M572.5 574.5V580.0M600.5 574.5V580.0M628.5 574.5V580.0M657.5 574.5V580.0M685.5 574.5V580.0M713.5 574.5V580.0M741.5 574.5V580.0M770.5 574.5V580.0M798.5 574.5V580.0M826.5 574.5V580.0M854.5 574.5V580.0M883.5 574.5V580.0M911.5 574.5V580.0M939.5 574.5V580.0M967.5 574.5V580.0M996.5 574.5V580.0M1024.5 574.5V580.0M1052.5 574.5V580.0M1081.5 574.5V580.0M1109.5 574.5V580.0M1137.5 574.5V580.0M1165.5 574.5V580.0M1194.5 574.5V580.0M1222.5 574.5V580.0M1250.5 574.5V580.0M1278.5 574.5V580.0M1307.5 574.5V580.0M1335.5 574.5V580.0M1363.5 574.5V580.0M1391.5 574.5V580.0M1420.5 574.5V580.0M1448.5 574.5V580.0M1476.5 574.5V580.0M1504.5 574.5V580.0M1533.5 574.5V580.0M1561.5 574.5V580.0M1589.5 574.5V580.0M1618.5 574.5V580.0M1646.5 574.5V580.0M1674.5 574.5V580.0M1702.5 574.5V580.0M1731.5 574.5V580.0M1759.5 574.5V580.0M1787.5 574.5V580.0M1815.5 574.5V580.0M1844.5 574.5V580.0M1872.5 574.5V580.0M1900.5 574.5V580.0M1928.5 574.5V580.0M1957.5 574.5V580.0M1985.5 574.5V580.0M2013.5 574.5V580.0M2041.5 574.5V580.0" stroke="#000" stroke-width="1" fill="none" shape-rendering="crispEdges"/>
<g font-family="Liberation Sans, sans-serif" font-size="16.5" fill="#000">
<text transform="translate(31.0 206.1) scale(1.123 1)" x="-9.18">0</text>
<text transform="translate(31.0 231.1) scale(1.123 1)" x="-9.18">1</text>
<text transform="translate(31.0 256.1) scale(1.123 1)" x="-9.18">2</text>
<text transform="translate(31.0 281.1) scale(1.123 1)" x="-9.18">3</text>
<text transform="translate(31.0 306.1) scale(1.123 1)" x="-9.18">4</text>
<text transform="translate(31.0 330.1) scale(1.123 1)" x="-9.18">5</text>
<text transform="translate(31.0 355.1) scale(1.123 1)" x="-9.18">6</text>
<text transform="translate(31.0 380.1) scale(1.123 1)" x="-9.18">7</text>
<text transform="translate(31.0 405.1) scale(1.123 1)" x="-9.18">8</text>
<text transform="translate(31.0 430.1) scale(1.123 1)" x="-9.18">9</text>
<text transform="translate(31.0 455.1) scale(1.123 1)" x="-18.36 -9.18">10</text>
<text transform="translate(31.0 480.1) scale(1.204 1)" x="-17.43 -8.87">11</text>
<text transform="translate(31.0 505.1) scale(1.123 1)" x="-18.36 -9.18">12</text>
<text transform="translate(31.0 530.1) scale(1.123 1)" x="-18.36 -9.18">13</text>
<text transform="translate(31.0 555.1) scale(1.123 1)" x="-18.36 -9.18">14</text>
</g>
<g font-family="Liberation Sans, sans-serif" font-size="16.3" fill="#000">
<text transform="translate(67.4 586.6) rotate(-90) scale(1.000 1)" x="-42.13 -33.05 -21.72 -9.52">FCN1</text>
<text transform="translate(95.4 586.6) rotate(-90) scale(1.032 1)" x="-42.25 -31.09 -19.04 -9.37">CD14</text>
<text transform="translate(124.4 586.6) rotate(-90) scale(1.000 1)" x="-57.96 -48.52 -38.47 -28.44 -19.00 -9.57">TCF7L2</text>
<text transform="translate(152.4 586.6) rotate(-90) scale(1.000 1)" x="-64.85 -55.66 -44.43 -32.33 -20.42 -10.86">FCGR3A</text>
<text transform="translate(180.4 586.6) rotate(-90) scale(1.000 1)" x="-27.73 -19.63 -11.65">LYN</text>
<text transform="translate(208.4 586.6) rotate(-90) scale(1.000 1)" x="-40.82 -29.93 -19.72 -9.51">CST3</text>
<text transform="translate(237.4 586.6) rotate(-90) scale(1.000 1)" x="-52.27 -41.01 -28.62 -18.96 -9.55">COTL1</text>
<text transform="translate(265.4 586.6) rotate(-90) scale(1.000 1)" x="-26.71 -18.63 -10.25">LYZ</text>
<text transform="translate(293.4 586.6) rotate(-90) scale(1.021 1)" x="-54.27 -42.54 -29.21 -18.69 -9.46">DMXL2</text>
<text transform="translate(321.4 586.6) rotate(-90) scale(1.000 1)" x="-72.52 -61.19 -52.64 -42.53 -30.57 -20.46 -10.87">CLEC10A</text>
<text transform="translate(350.4 586.6) rotate(-90) scale(1.000 1)" x="-62.54 -53.35 -42.37 -32.30 -20.41 -10.86">FCER1A</text>
<text transform="translate(378.4 586.6) rotate(-90) scale(1.032 1)" x="-47.31 -34.20 -23.94 -19.10 -9.39">MKI67</text>
<text transform="translate(406.4 586.6) rotate(-90) scale(1.017 1)" x="-42.66 -31.11 -20.54 -9.44">HBA1</text>
<text transform="translate(435.4 586.6) rotate(-90) scale(1.000 1)" x="-33.05 -21.43 -10.77">HBB</text>
<text transform="translate(463.4 586.6) rotate(-90) scale(1.000 1)" x="-43.72 -32.20 -20.40 -9.53">CDK6</text>
<text transform="translate(491.4 586.6) rotate(-90) scale(1.000 1)" x="-65.41 -55.54 -45.21 -33.59 -21.48 -9.58">SYNGR1</text>
<text transform="translate(519.4 586.6) rotate(-90) scale(1.000 1)" x="-35.89 -24.24 -13.51">HBM</text>
<text transform="translate(548.4 586.6) rotate(-90) scale(1.000 1)" x="-40.33 -28.58 -19.86 -9.79">GYPA</text>
<text transform="translate(576.4 586.6) rotate(-90) scale(1.000 1)" x="-40.32 -27.94 -16.38 -8.14">GNLY</text>
<text transform="translate(604.4 586.6) rotate(-90) scale(1.000 1)" x="-44.21 -32.58 -22.41 -9.53">NKG7</text>
<text transform="translate(632.4 586.6) rotate(-90) scale(1.051 1)" x="-51.38 -40.35 -28.43 -18.87 -9.31">CD247</text>
<text transform="translate(661.4 586.6) rotate(-90) scale(1.000 1)" x="-64.00 -54.82 -43.82 -33.76 -21.86 -12.48">FCER1G</text>
<text transform="translate(689.4 586.6) rotate(-90) scale(1.000 1)" x="-63.42 -54.20 -44.30 -33.01 -20.43 -10.22">TYROBP</text>
<text transform="translate(717.4 586.6) rotate(-90) scale(1.000 1)" x="-52.46 -42.16 -33.63 -22.49 -9.55">KLRG1</text>
<text transform="translate(745.4 586.6) rotate(-90) scale(1.000 1)" x="-64.85 -55.66 -44.43 -32.33 -20.42 -10.86">FCGR3A</text>
<text transform="translate(774.4 586.6) rotate(-90) scale(1.031 1)" x="-25.43 -21.11 -9.28">ID2</text>
<text transform="translate(802.4 586.6) rotate(-90) scale(1.000 1)" x="-52.25 -42.19 -33.65 -22.49 -9.55">PLCG2</text>
<text transform="translate(830.4 586.6) rotate(-90) scale(1.000 1)" x="-40.32 -27.94 -16.38 -8.14">GNLY</text>
<text transform="translate(858.4 586.6) rotate(-90) scale(1.000 1)" x="-51.87 -42.05 -31.78 -20.45 -9.55">SYNE1</text>
<text transform="translate(887.4 586.6) rotate(-90) scale(1.021 1)" x="-53.57 -40.63 -29.89 -20.58 -9.46">MS4A1</text>
<text transform="translate(915.4 586.6) rotate(-90) scale(1.000 1)" x="-33.94 -29.58 -20.29 -11.29">IL4R</text>
<text transform="translate(943.4 586.6) rotate(-90) scale(1.000 1)" x="-40.54 -36.24 -23.83 -11.91">IGHD</text>
<text transform="translate(971.4 586.6) rotate(-90) scale(1.000 1)" x="-50.27 -41.14 -30.16 -18.95 -9.55">FCRL1</text>
<text transform="translate(1000.4 586.6) rotate(-90) scale(1.000 1)" x="-42.04 -37.73 -25.31 -13.55">IGHM</text>
<text transform="translate(1028.4 586.6) rotate(-90) scale(1.021 1)" x="-53.57 -40.63 -29.89 -20.58 -9.46">MS4A1</text>
<text transform="translate(1056.4 586.6) rotate(-90) scale(1.003 1)" x="-47.05 -42.66 -33.16 -20.79 -9.52">ITGB1</text>
<text transform="translate(1085.4 586.6) rotate(-90) scale(1.014 1)" x="-62.95 -51.79 -39.48 -30.15 -20.73 -9.51">COL4A4</text>
<text transform="translate(1113.4 586.6) rotate(-90) scale(1.000 1)" x="-57.05 -47.24 -35.67 -23.66 -9.56">PRDM1</text>
<text transform="translate(1141.4 586.6) rotate(-90) scale(1.000 1)" x="-34.23 -30.14 -19.36 -9.48">IRF4</text>
<text transform="translate(1169.4 586.6) rotate(-90) scale(1.000 1)" x="-40.54 -30.47 -20.75 -9.51">PAX5</text>
<text transform="translate(1198.4 586.6) rotate(-90) scale(1.033 1)" x="-59.68 -49.51 -38.81 -29.66 -19.90 -10.68">BCL11A</text>
<text transform="translate(1226.4 586.6) rotate(-90) scale(1.000 1)" x="-29.51 -18.99 -10.34">BLK</text>
<text transform="translate(1254.4 586.6) rotate(-90) scale(1.000 1)" x="-40.54 -36.24 -23.83 -11.91">IGHD</text>
<text transform="translate(1282.4 586.6) rotate(-90) scale(1.000 1)" x="-42.04 -37.73 -25.31 -13.55">IGHM</text>
<text transform="translate(1311.4 586.6) rotate(-90) scale(1.037 1)" x="-43.73 -30.20 -20.27 -9.35">MZB1</text>
<text transform="translate(1339.4 586.6) rotate(-90) scale(1.018 1)" x="-71.59 -60.32 -50.66 -40.08 -30.15 -20.73 -9.50">HSP90B1</text>
<text transform="translate(1367.4 586.6) rotate(-90) scale(1.001 1)" x="-65.63 -56.04 -44.01 -32.38 -20.45 -10.87">FNDC3B</text>
<text transform="translate(1395.4 586.6) rotate(-90) scale(1.000 1)" x="-57.05 -47.24 -35.67 -23.66 -9.56">PRDM1</text>
<text transform="translate(1424.4 586.6) rotate(-90) scale(1.000 1)" x="-36.94 -32.67 -20.43 -10.48">IGKC</text>
<text transform="translate(1452.4 586.6) rotate(-90) scale(1.000 1)" x="-57.02 -50.58 -39.12 -27.32 -16.42 -11.80">JCHAIN</text>
<text transform="translate(1480.4 586.6) rotate(-90) scale(1.000 1)" x="-40.96 -30.22 -20.12 -9.52">XBP1</text>
<text transform="translate(1508.4 586.6) rotate(-90) scale(1.000 1)" x="-57.05 -47.24 -35.67 -23.66 -9.56">PRDM1</text>
<text transform="translate(1537.4 586.6) rotate(-90) scale(1.000 1)" x="-40.54 -30.47 -20.75 -9.51">PAX5</text>
<text transform="translate(1565.4 586.6) rotate(-90) scale(1.003 1)" x="-33.08 -21.71 -9.46">CD4</text>
<text transform="translate(1593.4 586.6) rotate(-90) scale(1.000 1)" x="-33.94 -29.58 -20.29 -11.29">IL7R</text>
<text transform="translate(1622.4 586.6) rotate(-90) scale(1.000 1)" x="-52.36 -42.96 -31.63 -21.16 -9.55">TRBC2</text>
<text transform="translate(1650.4 586.6) rotate(-90) scale(1.007 1)" x="-43.92 -32.48 -20.16 -10.77">CD8A</text>
<text transform="translate(1678.4 586.6) rotate(-90) scale(1.007 1)" x="-43.93 -32.49 -20.18 -10.78">CD8B</text>
<text transform="translate(1706.4 586.6) rotate(-90) scale(1.002 1)" x="-47.00 -34.19 -23.85 -10.42">GZMK</text>
<text transform="translate(1735.4 586.6) rotate(-90) scale(1.005 1)" x="-47.35 -34.56 -24.25 -10.79">GZMA</text>
<text transform="translate(1763.4 586.6) rotate(-90) scale(1.000 1)" x="-40.97 -30.04 -18.86 -9.51">CCL5</text>
<text transform="translate(1791.4 586.6) rotate(-90) scale(1.006 1)" x="-47.36 -34.57 -24.27 -10.80">GZMB</text>
<text transform="translate(1819.4 586.6) rotate(-90) scale(1.009 1)" x="-48.28 -35.53 -25.26 -11.75">GZMH</text>
<text transform="translate(1848.4 586.6) rotate(-90) scale(1.005 1)" x="-47.35 -34.56 -24.25 -10.79">GZMA</text>
<text transform="translate(1876.4 586.6) rotate(-90) scale(1.000 1)" x="-37.67 -29.29 -19.41 -9.50">LEF1</text>
<text transform="translate(1904.4 586.6) rotate(-90) scale(1.000 1)" x="-43.20 -32.24 -21.31 -9.52">CCR7</text>
<text transform="translate(1932.4 586.6) rotate(-90) scale(1.000 1)" x="-38.69 -29.36 -19.42 -9.51">TCF7</text>
<text transform="translate(1961.4 586.6) rotate(-90) scale(1.006 1)" x="-47.36 -34.57 -24.27 -10.80">GZMB</text>
<text transform="translate(1989.4 586.6) rotate(-90) scale(1.000 1)" x="-44.34 -39.92 -30.55 -21.45 -10.17">IL3RA</text>
<text transform="translate(2017.4 586.6) rotate(-90) scale(1.000 1)" x="-62.49 -51.18 -38.60 -27.85 -19.03 -9.57">COBLL1</text>
<text transform="translate(2045.4 586.6) rotate(-90) scale(1.000 1)" x="-38.69 -29.36 -19.42 -9.51">TCF4</text>
</g>
<path d="M55 175.5V167H97V175.5M111 175.5V167H182V175.5M196 175.5V167H351V175.5M365 175.5V167H436V175.5M450 175.5V167H549V175.5M563 175.5V167H747V175.5M761 175.5V167H860V175.5M874 175.5V167H1001V175.5M1016 175.5V167H1284V175.5M1298 175.5V167H1454V175.5M1468 175.5V167H1538V175.5M1552 175.5V167H1623V175.5M1637 175.5V167H1849V175.5M1863 175.5V167H1934V175.5M1948 175.5V167H2047V175.5" stroke="#000" stroke-width="2" fill="none" stroke-linejoin="miter" shape-rendering="crispEdges"/>
<g font-family="Liberation Sans, sans-serif" font-size="19.9" fill="#000"><text transform="translate(79.9 161.4) rotate(-90) scale(1.092 1)" x="-0.97 12.10 26.27 37.60 50.45 63.72 68.77 84.66 95.75 106.83">CD14+ Mono</text><text transform="translate(151.2 161.4) rotate(-90) scale(1.092 1)" x="-0.97 12.10 26.27 37.60 50.45 63.72 68.77 84.66 95.75 106.83">CD16+ Mono</text><text transform="translate(280.0 162.5) rotate(-90) scale(1.009 1)" x="0.18 10.34 24.10 38.26">cDC2</text><text transform="translate(407.0 162.5) rotate(-90) scale(1.104 1)" x="-1.14 11.27 18.33 29.10 35.26 46.58 53.26 63.73 74.99 79.42 89.84 100.00">Erythroblast</text><text transform="translate(506.0 162.5) rotate(-90) scale(1.095 1)" x="-1.33 10.92 17.38 27.79 39.04 46.20 57.06 63.32 74.74 81.51 92.09 103.44 107.95 118.48 128.73">Proerythroblast</text><text transform="translate(662.0 162.5) rotate(-90) scale(1.000 1)" x="-0.28 13.42">NK</text><text transform="translate(817.0 162.5) rotate(-90) scale(1.000 1)" x="-0.03 5.10 15.08">ILC</text><text transform="translate(942.2 161.4) rotate(-90) scale(1.093 1)" x="-0.53 13.21 24.46 29.42 39.59 50.59 55.26 68.32 82.47 93.78 106.60 119.86 124.98">Naive CD20+ B</text><text transform="translate(1154.2 161.4) rotate(-90) scale(1.076 1)" x="-0.44 12.39 18.12 28.08 39.47 44.49 48.94">B cells</text><text transform="translate(1379.8 161.4) rotate(-90) scale(1.072 1)" x="-1.17 11.24 15.99 26.83 37.07 54.21 65.30 71.07 81.07 92.49 97.53 102.00">Plasma cells</text><text transform="translate(1509.0 162.5) rotate(-90) scale(1.070 1)" x="-1.23 11.11 15.77 26.51 36.61 53.60 64.80 76.31 80.98 91.71 102.11">Plasmablast</text><text transform="translate(1592.2 161.4) rotate(-90) scale(1.095 1)" x="-0.99 12.04 26.17 38.97 52.21 57.20">CD4+ T</text><text transform="translate(1748.4 161.4) rotate(-90) scale(1.095 1)" x="-0.99 12.04 26.17 38.97 52.21 57.20">CD8+ T</text><text transform="translate(1902.8 161.4) rotate(-90) scale(1.097 1)" x="-0.67 10.82 16.54 27.58 38.80 43.74 53.87">T naive</text><text transform="translate(2004.4 162.5) rotate(-90) scale(1.000 1)" x="0.43 11.96 25.74">pDC</text></g>
<g font-family="Liberation Sans, sans-serif" font-size="16.5" fill="#000">
<text transform="translate(2148.6 421.9) scale(1.098 1)" x="-58.57 -49.00 -44.37 -35.32 -26.55 -21.14 -17.34 -8.15 1.11 5.72 15.26 20.02 24.64 32.76 42.11 46.21 49.80">Fraction of cells</text>
<text transform="translate(2149.0 439.7) scale(1.114 1)" x="-44.75 -40.88 -31.69 -27.04 -17.59 -12.00 -3.26 5.96 15.16 19.87 25.02 39.35">in group (%)</text>
<text transform="translate(2099.5 492.1) scale(1.123 1)" x="-9.18 0.00">20</text>
<text transform="translate(2122.5 492.1) scale(1.123 1)" x="-9.18 0.00">40</text>
<text transform="translate(2145.5 492.1) scale(1.123 1)" x="-9.18 0.00">60</text>
<text transform="translate(2168.5 492.1) scale(1.123 1)" x="-9.18 0.00">80</text>
<text transform="translate(2191.5 492.1) scale(1.123 1)" x="-13.77 -4.59 4.59">100</text>
<text transform="translate(2148.7 535.8) scale(1.088 1)" x="-63.27 -49.98 -40.84 -31.55 -22.25 -17.52 -8.07 0.35 9.98 15.77 24.37 32.13 40.38 44.25 53.52">Mean expression</text>
<text transform="translate(2148.9 552.8) scale(1.123 1)" x="-29.64 -25.82 -16.66 -12.09 -2.70 2.83 11.50 20.65">in group</text>
<text transform="translate(2091.5 595.7) scale(1.123 1)" x="-11.47 -2.29 2.29">0.0</text>
<text transform="translate(2149.5 595.7) scale(1.123 1)" x="-11.47 -2.29 2.29">0.5</text>
<text transform="translate(2207.5 595.7) scale(1.123 1)" x="-11.47 -2.29 2.29">1.0</text>
</g>
<circle cx="2098.9" cy="456.6" r="3.05" fill="#808080"/>
<circle cx="2121.8" cy="456.6" r="5.13" fill="#808080"/>
<circle cx="2144.8" cy="456.6" r="6.95" fill="#808080"/>
<circle cx="2167.6" cy="456.6" r="8.63" fill="#808080"/>
<circle cx="2190.5" cy="456.6" r="10.20" fill="#808080"/>
<path d="M2099.5 470V476M2122.5 470V476M2145.5 470V476M2168.5 470V476M2191.5 470V476" stroke="#000" stroke-width="1" shape-rendering="crispEdges"/>
<defs><linearGradient id="cb" x1="0" x2="1" y1="0" y2="0"><stop offset="0.00" stop-color="#fff5f0"/><stop offset="0.05" stop-color="#ffede5"/><stop offset="0.10" stop-color="#fee5d8"/><stop offset="0.15" stop-color="#fed9c9"/><stop offset="0.20" stop-color="#fdcab5"/><stop offset="0.25" stop-color="#fcbba1"/><stop offset="0.30" stop-color="#fcab8f"/><stop offset="0.35" stop-color="#fc9b7c"/><stop offset="0.40" stop-color="#fc8a6a"/><stop offset="0.45" stop-color="#fb7a5a"/><stop offset="0.50" stop-color="#fb694a"/><stop offset="0.55" stop-color="#f6583e"/><stop offset="0.60" stop-color="#f14432"/><stop offset="0.65" stop-color="#e83429"/><stop offset="0.70" stop-color="#d92523"/><stop offset="0.75" stop-color="#ca181d"/><stop offset="0.80" stop-color="#bc141a"/><stop offset="0.85" stop-color="#ac1117"/><stop offset="0.90" stop-color="#980c13"/><stop offset="0.95" stop-color="#7e0610"/><stop offset="1.00" stop-color="#67000d"/></linearGradient></defs>
<rect x="2091.5" y="561.5" width="116" height="13" fill="url(#cb)"/>
<path d="M2149.5 562V574" stroke="#d4d4d4" stroke-width="1" shape-rendering="crispEdges"/>
<path d="M2091.5 561.5H2207.5V574.5H2091.5ZM2091.5 574.5V580M2149.5 574.5V580M2207.5 574.5V580" fill="none" stroke="#000" stroke-width="1" shape-rendering="crispEdges"/>
</svg></body></html>
